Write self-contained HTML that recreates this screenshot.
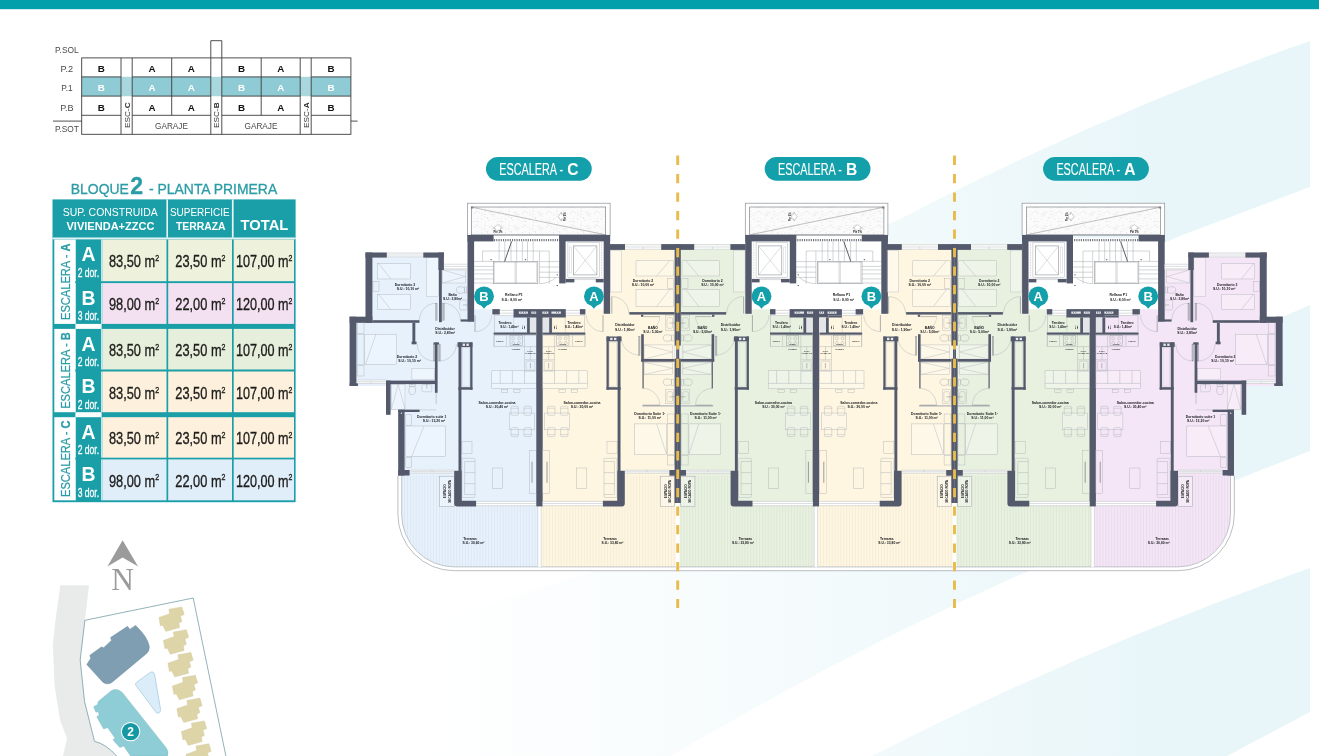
<!DOCTYPE html>
<html lang="es"><head><meta charset="utf-8"><title>Bloque 2 - Planta Primera</title>
<style>html,body{margin:0;padding:0;background:#fff;}body{width:1319px;height:756px;overflow:hidden;}svg{display:block;font-family:"Liberation Sans",sans-serif;}svg{will-change:transform;}</style></head><body>
<svg width="1319" height="756" viewBox="0 0 1319 756">
<rect width="1319" height="756" fill="#fff"/>
<g id="background"><defs><linearGradient id="bg1" x1="420" y1="0" x2="1150" y2="0" gradientUnits="userSpaceOnUse"><stop offset="0" stop-color="#e9f6f9" stop-opacity="0"/><stop offset="0.5" stop-color="#e9f6f9" stop-opacity="0.45"/><stop offset="1" stop-color="#e9f6f9" stop-opacity="1"/></linearGradient></defs>
<path d="M1310 41 Q1106 112 900 219 L330 475 L330 600 L393 575 Q800 400 1180 236 L1310 187 Z" fill="url(#bg1)"/>
<path d="M1310 305 L1282 317 Q800 520 330 650 L330 756 L671 756 Q850 650 1026 572 L1233 481 L1310 451 Z" fill="url(#bg1)"/>
<path d="M1310 568 Q1080 650 872 756 L1227 756 L1310 712 Z" fill="url(#bg1)"/></g>
<rect x="0" y="0" width="1319" height="9.2" fill="#009fab" />
<g id="section"><rect x="81.7" y="76.9" width="269.2" height="19.2" fill="#8fcbd4" />
<rect x="121" y="76.9" width="11.2" height="19.2" fill="#a9d7de" />
<rect x="210.8" y="76.9" width="11" height="19.2" fill="#a9d7de" />
<rect x="300.2" y="76.9" width="11" height="19.2" fill="#a9d7de" />
<path d="M210.8 57.9 V40.7 H221.8 V57.9" fill="#fff" stroke="#3c3c3c" stroke-width="0.9"/>
<rect x="81.7" y="57.9" width="269.2" height="76.4" fill="none" stroke="#3c3c3c" stroke-width="0.9"/>
<path d="M121 57.9 V134.3" stroke="#3c3c3c" stroke-width="0.9"/>
<path d="M132.2 57.9 V134.3" stroke="#3c3c3c" stroke-width="0.9"/>
<path d="M171.7 57.9 V115.3" stroke="#3c3c3c" stroke-width="0.9"/>
<path d="M210.8 57.9 V134.3" stroke="#3c3c3c" stroke-width="0.9"/>
<path d="M221.8 57.9 V134.3" stroke="#3c3c3c" stroke-width="0.9"/>
<path d="M261.2 57.9 V115.3" stroke="#3c3c3c" stroke-width="0.9"/>
<path d="M300.2 57.9 V134.3" stroke="#3c3c3c" stroke-width="0.9"/>
<path d="M311.2 57.9 V134.3" stroke="#3c3c3c" stroke-width="0.9"/>
<path d="M81.7 76.9 H121" stroke="#3c3c3c" stroke-width="0.9"/>
<path d="M132.2 76.9 H210.8" stroke="#3c3c3c" stroke-width="0.9"/>
<path d="M221.8 76.9 H300.2" stroke="#3c3c3c" stroke-width="0.9"/>
<path d="M311.2 76.9 H350.9" stroke="#3c3c3c" stroke-width="0.9"/>
<path d="M81.7 96.1 H121" stroke="#3c3c3c" stroke-width="0.9"/>
<path d="M132.2 96.1 H210.8" stroke="#3c3c3c" stroke-width="0.9"/>
<path d="M221.8 96.1 H300.2" stroke="#3c3c3c" stroke-width="0.9"/>
<path d="M311.2 96.1 H350.9" stroke="#3c3c3c" stroke-width="0.9"/>
<path d="M81.7 115.3 H121" stroke="#3c3c3c" stroke-width="0.9"/>
<path d="M132.2 115.3 H210.8" stroke="#3c3c3c" stroke-width="0.9"/>
<path d="M221.8 115.3 H300.2" stroke="#3c3c3c" stroke-width="0.9"/>
<path d="M311.2 115.3 H350.9" stroke="#3c3c3c" stroke-width="0.9"/>
<path d="M53 121.1 H81.7 M350.9 121.1 H357.6" stroke="#3c3c3c" stroke-width="0.9"/>
<text x="66.9" y="53.2" font-size="8.8" fill="#4a4a4a" font-weight="normal" text-anchor="middle" textLength="23.6" lengthAdjust="spacingAndGlyphs" >P.SOL</text>
<text x="66.9" y="72.3" font-size="8.8" fill="#4a4a4a" font-weight="normal" text-anchor="middle" textLength="12.6" lengthAdjust="spacingAndGlyphs" >P.2</text>
<text x="66.9" y="91.4" font-size="8.8" fill="#4a4a4a" font-weight="normal" text-anchor="middle" textLength="11.4" lengthAdjust="spacingAndGlyphs" >P.1</text>
<text x="66.9" y="110.6" font-size="8.8" fill="#4a4a4a" font-weight="normal" text-anchor="middle" textLength="13.4" lengthAdjust="spacingAndGlyphs" >P.B</text>
<text x="66.9" y="132.2" font-size="8.8" fill="#4a4a4a" font-weight="normal" text-anchor="middle" textLength="24" lengthAdjust="spacingAndGlyphs" >P.SOT</text>
<text x="101.35" y="72.3" font-size="9.8" fill="#111" font-weight="bold" text-anchor="middle" >B</text>
<text x="151.95" y="72.3" font-size="9.8" fill="#111" font-weight="bold" text-anchor="middle" >A</text>
<text x="191.25" y="72.3" font-size="9.8" fill="#111" font-weight="bold" text-anchor="middle" >A</text>
<text x="241.5" y="72.3" font-size="9.8" fill="#111" font-weight="bold" text-anchor="middle" >B</text>
<text x="280.7" y="72.3" font-size="9.8" fill="#111" font-weight="bold" text-anchor="middle" >A</text>
<text x="331.05" y="72.3" font-size="9.8" fill="#111" font-weight="bold" text-anchor="middle" >B</text>
<text x="101.35" y="91.3" font-size="9.8" fill="#fff" font-weight="bold" text-anchor="middle" >B</text>
<text x="151.95" y="91.3" font-size="9.8" fill="#fff" font-weight="bold" text-anchor="middle" >A</text>
<text x="191.25" y="91.3" font-size="9.8" fill="#fff" font-weight="bold" text-anchor="middle" >A</text>
<text x="241.5" y="91.3" font-size="9.8" fill="#fff" font-weight="bold" text-anchor="middle" >B</text>
<text x="280.7" y="91.3" font-size="9.8" fill="#fff" font-weight="bold" text-anchor="middle" >A</text>
<text x="331.05" y="91.3" font-size="9.8" fill="#fff" font-weight="bold" text-anchor="middle" >B</text>
<text x="101.35" y="110.5" font-size="9.8" fill="#111" font-weight="bold" text-anchor="middle" >B</text>
<text x="151.95" y="110.5" font-size="9.8" fill="#111" font-weight="bold" text-anchor="middle" >A</text>
<text x="191.25" y="110.5" font-size="9.8" fill="#111" font-weight="bold" text-anchor="middle" >A</text>
<text x="241.5" y="110.5" font-size="9.8" fill="#111" font-weight="bold" text-anchor="middle" >B</text>
<text x="280.7" y="110.5" font-size="9.8" fill="#111" font-weight="bold" text-anchor="middle" >A</text>
<text x="331.05" y="110.5" font-size="9.8" fill="#111" font-weight="bold" text-anchor="middle" >B</text>
<text x="171.5" y="129.4" font-size="8.8" fill="#4a4a4a" font-weight="normal" text-anchor="middle" textLength="33" lengthAdjust="spacingAndGlyphs" >GARAJE</text>
<text x="261" y="129.4" font-size="8.8" fill="#4a4a4a" font-weight="normal" text-anchor="middle" textLength="33" lengthAdjust="spacingAndGlyphs" >GARAJE</text>
<text transform="translate(129.5 128) rotate(-90)" font-size="7.8" fill="#333" textLength="25.6" lengthAdjust="spacingAndGlyphs">ESC-<tspan font-weight="bold">C</tspan></text>
<text transform="translate(219.2 128) rotate(-90)" font-size="7.8" fill="#333" textLength="25.6" lengthAdjust="spacingAndGlyphs">ESC-<tspan font-weight="bold">B</tspan></text>
<text transform="translate(308.6 128) rotate(-90)" font-size="7.8" fill="#333" textLength="25.6" lengthAdjust="spacingAndGlyphs">ESC-<tspan font-weight="bold">A</tspan></text></g>
<g id="table"><text x="70.8" y="193.8" font-size="13.9" fill="#2b9ca6" stroke="#2b9ca6" stroke-width="0.3" textLength="206.4" lengthAdjust="spacingAndGlyphs">BLOQUE<tspan font-size="23" font-weight="bold" dx="1.5">2</tspan><tspan dx="2"> - PLANTA PRIMERA</tspan></text>
<rect x="52.5" y="199.4" width="243.1" height="302.8" fill="#1a9fa9" />
<rect x="166.4" y="199.4" width="1.6" height="38.2" fill="#e8f6f7" />
<rect x="231.9" y="199.4" width="1.7" height="38.2" fill="#e8f6f7" />
<rect x="52.5" y="237.6" width="243.1" height="1.8" fill="#d9f0f2" />
<rect x="52.5" y="237.6" width="243.1" height="0.8" fill="#ffffff" opacity="0.5"/>
<text x="110.2" y="216.2" font-size="10.2" fill="#fff" font-weight="normal" text-anchor="middle" textLength="95" lengthAdjust="spacingAndGlyphs" >SUP. CONSTRUIDA</text>
<text x="110.5" y="230.3" font-size="10.3" fill="#fff" font-weight="bold" text-anchor="middle" textLength="88" lengthAdjust="spacingAndGlyphs" >VIVIENDA+ZZCC</text>
<text x="199.8" y="215.6" font-size="10.2" fill="#fff" font-weight="normal" text-anchor="middle" textLength="59.6" lengthAdjust="spacingAndGlyphs" >SUPERFICIE</text>
<text x="200.8" y="229.6" font-size="10.3" fill="#fff" font-weight="bold" text-anchor="middle" textLength="49.6" lengthAdjust="spacingAndGlyphs" >TERRAZA</text>
<text x="264.4" y="229.6" font-size="13.8" fill="#fff" font-weight="bold" text-anchor="middle" textLength="47.8" lengthAdjust="spacingAndGlyphs" >TOTAL</text>
<rect x="54.3" y="239.5" width="20.9" height="84.4" fill="#ffffff" />
<text transform="translate(69.6 281.7) rotate(-90)" font-size="13.6" fill="#2b9ca6" stroke="#2b9ca6" stroke-width="0.25" text-anchor="middle" textLength="76.5" lengthAdjust="spacingAndGlyphs">ESCALERA - <tspan font-weight="bold">A</tspan></text>
<rect x="54.3" y="328.9" width="20.9" height="83.3" fill="#ffffff" />
<text transform="translate(69.6 370.55) rotate(-90)" font-size="13.6" fill="#2b9ca6" stroke="#2b9ca6" stroke-width="0.25" text-anchor="middle" textLength="76.5" lengthAdjust="spacingAndGlyphs">ESCALERA - <tspan font-weight="bold">B</tspan></text>
<rect x="54.3" y="417.2" width="20.9" height="83.1" fill="#ffffff" />
<text transform="translate(69.6 458.75) rotate(-90)" font-size="13.6" fill="#2b9ca6" stroke="#2b9ca6" stroke-width="0.25" text-anchor="middle" textLength="76.5" lengthAdjust="spacingAndGlyphs">ESCALERA - <tspan font-weight="bold">C</tspan></text>
<rect x="75.4" y="323.9" width="26.2" height="5" fill="#fbfeff" />
<rect x="75.4" y="412.2" width="26.2" height="5" fill="#fbfeff" />
<rect x="102.6" y="239.5" width="63.9" height="41.7" fill="#eef2dc" />
<rect x="168.2" y="239.5" width="63.8" height="41.7" fill="#eef2dc" />
<rect x="233.7" y="239.5" width="60.3" height="41.7" fill="#eef2dc" />
<rect x="74.6" y="239.5" width="1.1" height="41.7" fill="#ffffff" />
<rect x="101.2" y="239.5" width="1.4" height="41.7" fill="#eaf7f8" />
<text x="88.6" y="261.1" font-size="19.4" fill="#fff" font-weight="bold" text-anchor="middle" >A</text>
<text x="88.4" y="276.7" font-size="12.4" fill="#fff" font-weight="normal" text-anchor="middle" textLength="21.4" lengthAdjust="spacingAndGlyphs" stroke="#fff" stroke-width="0.3">2 dor.</text>
<text x="134" y="266.7" font-size="16.4" fill="#1d1d1b" stroke="#1d1d1b" stroke-width="0.35" text-anchor="middle" textLength="50.2" lengthAdjust="spacingAndGlyphs">83,50 m<tspan font-size="9" dy="-6.2">2</tspan></text>
<text x="200.4" y="266.7" font-size="16.4" fill="#1d1d1b" stroke="#1d1d1b" stroke-width="0.35" text-anchor="middle" textLength="50.2" lengthAdjust="spacingAndGlyphs">23,50 m<tspan font-size="9" dy="-6.2">2</tspan></text>
<text x="264.2" y="266.7" font-size="16.4" fill="#1d1d1b" stroke="#1d1d1b" stroke-width="0.35" text-anchor="middle" textLength="56.5" lengthAdjust="spacingAndGlyphs">107,00 m<tspan font-size="9" dy="-6.2">2</tspan></text>
<rect x="102.6" y="283.1" width="63.9" height="40.8" fill="#f3e1f1" />
<rect x="168.2" y="283.1" width="63.8" height="40.8" fill="#f3e1f1" />
<rect x="233.7" y="283.1" width="60.3" height="40.8" fill="#f3e1f1" />
<rect x="74.6" y="283.1" width="1.1" height="40.8" fill="#ffffff" />
<rect x="101.2" y="283.1" width="1.4" height="40.8" fill="#eaf7f8" />
<text x="88.6" y="304.7" font-size="19.4" fill="#fff" font-weight="bold" text-anchor="middle" >B</text>
<text x="88.4" y="320.3" font-size="12.4" fill="#fff" font-weight="normal" text-anchor="middle" textLength="21.4" lengthAdjust="spacingAndGlyphs" stroke="#fff" stroke-width="0.3">3 dor.</text>
<text x="134" y="310.3" font-size="16.4" fill="#1d1d1b" stroke="#1d1d1b" stroke-width="0.35" text-anchor="middle" textLength="50.2" lengthAdjust="spacingAndGlyphs">98,00 m<tspan font-size="9" dy="-6.2">2</tspan></text>
<text x="200.4" y="310.3" font-size="16.4" fill="#1d1d1b" stroke="#1d1d1b" stroke-width="0.35" text-anchor="middle" textLength="50.2" lengthAdjust="spacingAndGlyphs">22,00 m<tspan font-size="9" dy="-6.2">2</tspan></text>
<text x="264.2" y="310.3" font-size="16.4" fill="#1d1d1b" stroke="#1d1d1b" stroke-width="0.35" text-anchor="middle" textLength="56.5" lengthAdjust="spacingAndGlyphs">120,00 m<tspan font-size="9" dy="-6.2">2</tspan></text>
<rect x="102.6" y="328.9" width="63.9" height="40.6" fill="#e6efdc" />
<rect x="168.2" y="328.9" width="63.8" height="40.6" fill="#e6efdc" />
<rect x="233.7" y="328.9" width="60.3" height="40.6" fill="#e6efdc" />
<rect x="74.6" y="328.9" width="1.1" height="40.6" fill="#ffffff" />
<rect x="101.2" y="328.9" width="1.4" height="40.6" fill="#eaf7f8" />
<text x="88.6" y="350.5" font-size="19.4" fill="#fff" font-weight="bold" text-anchor="middle" >A</text>
<text x="88.4" y="366.1" font-size="12.4" fill="#fff" font-weight="normal" text-anchor="middle" textLength="21.4" lengthAdjust="spacingAndGlyphs" stroke="#fff" stroke-width="0.3">2 dor.</text>
<text x="134" y="356.1" font-size="16.4" fill="#1d1d1b" stroke="#1d1d1b" stroke-width="0.35" text-anchor="middle" textLength="50.2" lengthAdjust="spacingAndGlyphs">83,50 m<tspan font-size="9" dy="-6.2">2</tspan></text>
<text x="200.4" y="356.1" font-size="16.4" fill="#1d1d1b" stroke="#1d1d1b" stroke-width="0.35" text-anchor="middle" textLength="50.2" lengthAdjust="spacingAndGlyphs">23,50 m<tspan font-size="9" dy="-6.2">2</tspan></text>
<text x="264.2" y="356.1" font-size="16.4" fill="#1d1d1b" stroke="#1d1d1b" stroke-width="0.35" text-anchor="middle" textLength="56.5" lengthAdjust="spacingAndGlyphs">107,00 m<tspan font-size="9" dy="-6.2">2</tspan></text>
<rect x="102.6" y="371.5" width="63.9" height="40.7" fill="#fdf1dd" />
<rect x="168.2" y="371.5" width="63.8" height="40.7" fill="#fdf1dd" />
<rect x="233.7" y="371.5" width="60.3" height="40.7" fill="#fdf1dd" />
<rect x="74.6" y="371.5" width="1.1" height="40.7" fill="#ffffff" />
<rect x="101.2" y="371.5" width="1.4" height="40.7" fill="#eaf7f8" />
<text x="88.6" y="393.1" font-size="19.4" fill="#fff" font-weight="bold" text-anchor="middle" >B</text>
<text x="88.4" y="408.7" font-size="12.4" fill="#fff" font-weight="normal" text-anchor="middle" textLength="21.4" lengthAdjust="spacingAndGlyphs" stroke="#fff" stroke-width="0.3">2 dor.</text>
<text x="134" y="398.7" font-size="16.4" fill="#1d1d1b" stroke="#1d1d1b" stroke-width="0.35" text-anchor="middle" textLength="50.2" lengthAdjust="spacingAndGlyphs">83,50 m<tspan font-size="9" dy="-6.2">2</tspan></text>
<text x="200.4" y="398.7" font-size="16.4" fill="#1d1d1b" stroke="#1d1d1b" stroke-width="0.35" text-anchor="middle" textLength="50.2" lengthAdjust="spacingAndGlyphs">23,50 m<tspan font-size="9" dy="-6.2">2</tspan></text>
<text x="264.2" y="398.7" font-size="16.4" fill="#1d1d1b" stroke="#1d1d1b" stroke-width="0.35" text-anchor="middle" textLength="56.5" lengthAdjust="spacingAndGlyphs">107,00 m<tspan font-size="9" dy="-6.2">2</tspan></text>
<rect x="102.6" y="417.2" width="63.9" height="40.5" fill="#fdf1dd" />
<rect x="168.2" y="417.2" width="63.8" height="40.5" fill="#fdf1dd" />
<rect x="233.7" y="417.2" width="60.3" height="40.5" fill="#fdf1dd" />
<rect x="74.6" y="417.2" width="1.1" height="40.5" fill="#ffffff" />
<rect x="101.2" y="417.2" width="1.4" height="40.5" fill="#eaf7f8" />
<text x="88.6" y="438.8" font-size="19.4" fill="#fff" font-weight="bold" text-anchor="middle" >A</text>
<text x="88.4" y="454.4" font-size="12.4" fill="#fff" font-weight="normal" text-anchor="middle" textLength="21.4" lengthAdjust="spacingAndGlyphs" stroke="#fff" stroke-width="0.3">2 dor.</text>
<text x="134" y="444.4" font-size="16.4" fill="#1d1d1b" stroke="#1d1d1b" stroke-width="0.35" text-anchor="middle" textLength="50.2" lengthAdjust="spacingAndGlyphs">83,50 m<tspan font-size="9" dy="-6.2">2</tspan></text>
<text x="200.4" y="444.4" font-size="16.4" fill="#1d1d1b" stroke="#1d1d1b" stroke-width="0.35" text-anchor="middle" textLength="50.2" lengthAdjust="spacingAndGlyphs">23,50 m<tspan font-size="9" dy="-6.2">2</tspan></text>
<text x="264.2" y="444.4" font-size="16.4" fill="#1d1d1b" stroke="#1d1d1b" stroke-width="0.35" text-anchor="middle" textLength="56.5" lengthAdjust="spacingAndGlyphs">107,00 m<tspan font-size="9" dy="-6.2">2</tspan></text>
<rect x="102.6" y="459.4" width="63.9" height="40.9" fill="#e0eefa" />
<rect x="168.2" y="459.4" width="63.8" height="40.9" fill="#e0eefa" />
<rect x="233.7" y="459.4" width="60.3" height="40.9" fill="#e0eefa" />
<rect x="74.6" y="459.4" width="1.1" height="40.9" fill="#ffffff" />
<rect x="101.2" y="459.4" width="1.4" height="40.9" fill="#eaf7f8" />
<text x="88.6" y="481" font-size="19.4" fill="#fff" font-weight="bold" text-anchor="middle" >B</text>
<text x="88.4" y="496.6" font-size="12.4" fill="#fff" font-weight="normal" text-anchor="middle" textLength="21.4" lengthAdjust="spacingAndGlyphs" stroke="#fff" stroke-width="0.3">3 dor.</text>
<text x="134" y="486.6" font-size="16.4" fill="#1d1d1b" stroke="#1d1d1b" stroke-width="0.35" text-anchor="middle" textLength="50.2" lengthAdjust="spacingAndGlyphs">98,00 m<tspan font-size="9" dy="-6.2">2</tspan></text>
<text x="200.4" y="486.6" font-size="16.4" fill="#1d1d1b" stroke="#1d1d1b" stroke-width="0.35" text-anchor="middle" textLength="50.2" lengthAdjust="spacingAndGlyphs">22,00 m<tspan font-size="9" dy="-6.2">2</tspan></text>
<text x="264.2" y="486.6" font-size="16.4" fill="#1d1d1b" stroke="#1d1d1b" stroke-width="0.35" text-anchor="middle" textLength="56.5" lengthAdjust="spacingAndGlyphs">120,00 m<tspan font-size="9" dy="-6.2">2</tspan></text></g>
<g id="sitemap"><path d="M60.3 585.3 L89 585.3 L84.9 620.5 L80.2 660 L84.5 701.4 L94.5 741.3 Q106 744 116.7 756 L63 756 L67 738.5 L60 720 L54.6 686 L52.8 645 L55.5 620 Z" fill="#e9eaea"/>
<path d="M116.7 756 Q106 744 94.5 741.3 L84.5 701.4 L80.2 660 L84.9 620.3 L193.2 598 L225.9 756" fill="#fff" stroke="#4a7f88" stroke-width="0.6"/>
<path d="M86.8 664.6 L90.7 658.4 L89.9 655.3 L101.4 646.9 L103.7 647.7 L111.5 640.4 L110.6 637.6 L127.6 626.3 L129.8 629.4 L135.6 625.4 L137.8 627.7 Q147.5 637 149.3 646.5 Q149.5 651.5 146 654 L112.1 682.2 Q107.5 685.5 102.9 682.2 Z" fill="#7f9eb2" stroke="#6b8a9e" stroke-width="0.5"/>
<path d="M136 685.5 Q134.6 683.8 136.6 682.3 L150.2 672.4 Q153.6 670.8 154.6 674.5 L160.6 709.6 Q160.2 714.2 156.4 712.8 Z" fill="#dcedfa" stroke="#9cc7da" stroke-width="0.7"/>
<path d="M93.7 706.8 L97.6 704.5 L98.3 701.4 L111.4 690.7 Q116.7 687.6 122.2 692.4 L165.9 747.4 Q169.2 752 167.4 756 L130.6 756 L123.7 745.9 L119.8 747.4 L112.9 739.8 L115.2 738.2 L107.5 727.5 L103.7 729 L96.8 716.8 L99.1 715.2 L98.3 711.4 L96 712.2 Z" fill="#8fcdd6" stroke="#7bbcc6" stroke-width="0.5"/>
<path d="M158.9 617.6 L169.6 613.8 L168.9 609.2 L181.9 606.9 L184.2 614.5 L180.4 616.1 L181.9 621.4 L178.9 623 L179.6 627.6 L165.8 631.4 L162.7 625.3 L160.4 626 Z" fill="#ddd4a8" stroke="#d2c89a" stroke-width="0.4"/>
<path d="M163.4 640.4 L174.1 636.6 L173.4 632 L186.4 629.7 L188.7 637.3 L184.9 638.9 L186.4 644.2 L183.4 645.8 L184.1 650.4 L170.3 654.2 L167.2 648.1 L164.9 648.8 Z" fill="#ddd4a8" stroke="#d2c89a" stroke-width="0.4"/>
<path d="M167.9 663.2 L178.6 659.4 L177.9 654.8 L190.9 652.5 L193.2 660.1 L189.4 661.7 L190.9 667 L187.9 668.6 L188.6 673.2 L174.8 677 L171.7 670.9 L169.4 671.6 Z" fill="#ddd4a8" stroke="#d2c89a" stroke-width="0.4"/>
<path d="M172.4 686 L183.1 682.2 L182.4 677.6 L195.4 675.3 L197.7 682.9 L193.9 684.5 L195.4 689.8 L192.4 691.4 L193.1 696 L179.3 699.8 L176.2 693.7 L173.9 694.4 Z" fill="#ddd4a8" stroke="#d2c89a" stroke-width="0.4"/>
<path d="M176.9 708.8 L187.6 705 L186.9 700.4 L199.9 698.1 L202.2 705.7 L198.4 707.3 L199.9 712.6 L196.9 714.2 L197.6 718.8 L183.8 722.6 L180.7 716.5 L178.4 717.2 Z" fill="#ddd4a8" stroke="#d2c89a" stroke-width="0.4"/>
<path d="M181.4 731.6 L192.1 727.8 L191.4 723.2 L204.4 720.9 L206.7 728.5 L202.9 730.1 L204.4 735.4 L201.4 737 L202.1 741.6 L188.3 745.4 L185.2 739.3 L182.9 740 Z" fill="#ddd4a8" stroke="#d2c89a" stroke-width="0.4"/>
<path d="M185.9 754.4 L196.6 750.6 L195.9 746 L208.9 743.7 L211.2 751.3 L207.4 752.9 L208.9 758.2 L205.9 759.8 L206.6 764.4 L192.8 768.2 L189.7 762.1 L187.4 762.8 Z" fill="#ddd4a8" stroke="#d2c89a" stroke-width="0.4"/>
<circle cx="130.6" cy="731.6" r="9.7" fill="#fff"/>
<circle cx="130.6" cy="731.6" r="8.7" fill="#1598a3"/>
<text x="130.6" y="735.9" font-size="12" fill="#fff" font-weight="bold" text-anchor="middle" >2</text>
<path d="M122.6 540.3 L138.1 566.6 L122.6 557.4 L107.4 566.6 Z" fill="#9b9b9b"/>
<text x="122.6" y="589.6" font-size="31.5" fill="#9b9b9b" text-anchor="middle" font-family='"Liberation Serif", serif'>N</text></g>
<g id="plan"><defs><pattern id="hatch_blue" width="2.9" height="8" patternUnits="userSpaceOnUse"><rect width="2.9" height="8" fill="#e6f1fc"/><rect x="1.1" width="0.7" height="8" fill="#d9e5f2"/></pattern><pattern id="hatch_cream" width="2.9" height="8" patternUnits="userSpaceOnUse"><rect width="2.9" height="8" fill="#fef6e1"/><rect x="1.1" width="0.7" height="8" fill="#f1e9d3"/></pattern><pattern id="hatch_green" width="2.9" height="8" patternUnits="userSpaceOnUse"><rect width="2.9" height="8" fill="#e8f1e0"/><rect x="1.1" width="0.7" height="8" fill="#dbe5d2"/></pattern><pattern id="hatch_pink" width="2.9" height="8" patternUnits="userSpaceOnUse"><rect width="2.9" height="8" fill="#f4e6f6"/><rect x="1.1" width="0.7" height="8" fill="#e7d8ea"/></pattern><pattern id="speck" width="24" height="14" patternUnits="userSpaceOnUse"><rect width="24" height="14" fill="#fbfbfb"/><rect x="5.52" y="1.38" width="0.6" height="0.6" fill="#c9ccd0"/><rect x="9.27" y="2.08" width="0.6" height="0.6" fill="#c9ccd0"/><rect x="1.56" y="5.38" width="0.6" height="0.6" fill="#c9ccd0"/><rect x="21.48" y="10.73" width="0.6" height="0.6" fill="#c9ccd0"/><rect x="17.9" y="2.97" width="0.6" height="0.6" fill="#c9ccd0"/><rect x="12.56" y="3.71" width="0.6" height="0.6" fill="#c9ccd0"/><rect x="4.04" y="1.42" width="0.6" height="0.6" fill="#c9ccd0"/><rect x="5.02" y="12.43" width="0.6" height="0.6" fill="#c9ccd0"/><rect x="19.4" y="10.81" width="0.6" height="0.6" fill="#c9ccd0"/><rect x="18.73" y="2.59" width="0.6" height="0.6" fill="#c9ccd0"/><rect x="7.25" y="8.4" width="0.6" height="0.6" fill="#c9ccd0"/><rect x="17.13" y="11.45" width="0.6" height="0.6" fill="#c9ccd0"/><rect x="20.59" y="1.16" width="0.6" height="0.6" fill="#c9ccd0"/><rect x="14.18" y="9" width="0.6" height="0.6" fill="#c9ccd0"/><rect x="11.84" y="2.38" width="0.6" height="0.6" fill="#c9ccd0"/><rect x="11.08" y="1.2" width="0.6" height="0.6" fill="#c9ccd0"/><rect x="21.87" y="11.6" width="0.6" height="0.6" fill="#c9ccd0"/><rect x="12.81" y="4.02" width="0.6" height="0.6" fill="#c9ccd0"/><rect x="21.27" y="7.67" width="0.6" height="0.6" fill="#c9ccd0"/><rect x="20.65" y="11.36" width="0.6" height="0.6" fill="#c9ccd0"/><rect x="11.9" y="5.55" width="0.6" height="0.6" fill="#c9ccd0"/><rect x="14.01" y="5.78" width="0.6" height="0.6" fill="#c9ccd0"/><rect x="3.77" y="4.09" width="0.6" height="0.6" fill="#c9ccd0"/><rect x="19.01" y="0.58" width="0.6" height="0.6" fill="#c9ccd0"/><rect x="1.08" y="8.39" width="0.6" height="0.6" fill="#c9ccd0"/><rect x="6.56" y="7.16" width="0.6" height="0.6" fill="#c9ccd0"/><rect x="11.03" y="4.59" width="0.6" height="0.6" fill="#c9ccd0"/><rect x="23.34" y="2.62" width="0.6" height="0.6" fill="#c9ccd0"/><rect x="9.66" y="2.72" width="0.6" height="0.6" fill="#c9ccd0"/><rect x="14.8" y="3.7" width="0.6" height="0.6" fill="#c9ccd0"/><rect x="8.33" y="10.01" width="0.6" height="0.6" fill="#c9ccd0"/><rect x="7.5" y="7.48" width="0.6" height="0.6" fill="#c9ccd0"/><rect x="21.16" y="1.35" width="0.6" height="0.6" fill="#c9ccd0"/><rect x="1.44" y="3.07" width="0.6" height="0.6" fill="#c9ccd0"/><rect x="17.9" y="8.25" width="0.6" height="0.6" fill="#c9ccd0"/><rect x="5.56" y="4.44" width="0.6" height="0.6" fill="#c9ccd0"/><rect x="4.15" y="6.15" width="0.6" height="0.6" fill="#c9ccd0"/><rect x="1" y="9.34" width="0.6" height="0.6" fill="#c9ccd0"/></pattern><pattern id="duct" width="2" height="2" patternUnits="userSpaceOnUse"><rect width="2" height="2" fill="#f4f5f6"/><path d="M0 1 H2 M1 0 V2" stroke="#b9bdc2" stroke-width="0.3"/></pattern></defs>
<g ><path d="M365.5 252.5 H443.9 V264.2 H467.5 V321.3 H474.1 V309.1 H492.3 V315.2 H539.5 V566.7 H454.2 A52.5 52.5 0 0 1 401.7 514.2 V475.6 H398.2 V410 H386 V385.9 H349.6 V316.7 H365.5 Z" fill="#e6f1fc"/><path d="M401.7 475.6 H454.2 V506.4 H539.5 V566.7 H454.2 A52.5 52.5 0 0 1 401.7 514.2 Z" fill="url(#hatch_blue)"/></g>
<g ><path d="M610 244.1 H677.7 V566.7 H539.5 V315.2 H585.4 V309.1 H603.9 V313.7 H610 Z" fill="#fef6e1"/><path d="M539.5 506.4 H625 V475.6 H677.7 V566.7 H539.5 Z" fill="url(#hatch_cream)"/></g>
<g transform="matrix(-1 0 0 1 1355.4 0)" ><path d="M610 244.1 H677.7 V566.7 H539.5 V315.2 H585.4 V309.1 H603.9 V313.7 H610 Z" fill="#e8f1e0"/><path d="M539.5 506.4 H625 V475.6 H677.7 V566.7 H539.5 Z" fill="url(#hatch_green)"/></g>
<g transform="matrix(1 0 0 1 276.8 0)" ><path d="M610 244.1 H677.7 V566.7 H539.5 V315.2 H585.4 V309.1 H603.9 V313.7 H610 Z" fill="#fef6e1"/><path d="M539.5 506.4 H625 V475.6 H677.7 V566.7 H539.5 Z" fill="url(#hatch_cream)"/></g>
<g transform="matrix(-1 0 0 1 1632.2 0)" ><path d="M610 244.1 H677.7 V566.7 H539.5 V315.2 H585.4 V309.1 H603.9 V313.7 H610 Z" fill="#e8f1e0"/><path d="M539.5 506.4 H625 V475.6 H677.7 V566.7 H539.5 Z" fill="url(#hatch_green)"/></g>
<g transform="matrix(-1 0 0 1 1632.2 0)" ><path d="M365.5 252.5 H443.9 V264.2 H467.5 V321.3 H474.1 V309.1 H492.3 V315.2 H539.5 V566.7 H454.2 A52.5 52.5 0 0 1 401.7 514.2 V475.6 H398.2 V410 H386 V385.9 H349.6 V316.7 H365.5 Z" fill="#f4e6f6"/><path d="M401.7 475.6 H454.2 V506.4 H539.5 V566.7 H454.2 A52.5 52.5 0 0 1 401.7 514.2 Z" fill="url(#hatch_pink)"/></g>
<path d="M399.7 475.6 V514.4 A56.3 56.3 0 0 0 454.2 570.7 H1178 A56.3 56.3 0 0 0 1232.5 514.4 V475.6" fill="none" stroke="#fff" stroke-width="3.2" transform="translate(0 -1.7)"/>
<path d="M397.9 475.6 V514.4 A56.3 56.3 0 0 0 454.2 570.7 H1178 A56.3 56.3 0 0 0 1234.3 514.4 V475.6" fill="none" stroke="#9ea2a8" stroke-width="0.7"/>
<path d="M401.7 475.6 V514.4 A52.5 52.5 0 0 0 454.2 566.9 H1178 A52.5 52.5 0 0 0 1230.5 514.4 V475.6" fill="none" stroke="#aab0b6" stroke-width="0.7"/>
<rect x="537.8" y="506.4" width="3.4" height="60.5" fill="#fff" />
<path d="M537.8 506.4 V566.9 M541.2 506.4 V566.9" fill="none" stroke="#b8bcc2" stroke-width="0.45" />
<rect x="814.2" y="506.4" width="3.4" height="60.5" fill="#fff" />
<path d="M814.2 506.4 V566.9 M817.6 506.4 V566.9" fill="none" stroke="#b8bcc2" stroke-width="0.45" />
<rect x="1091" y="506.4" width="3.4" height="60.5" fill="#fff" />
<path d="M1091 506.4 V566.9 M1094.4 506.4 V566.9" fill="none" stroke="#b8bcc2" stroke-width="0.45" />
<rect x="675.8" y="503" width="3.8" height="63.9" fill="#fff" />
<rect x="952.6" y="503" width="3.8" height="63.9" fill="#fff" />
<g ><rect x="386.8" y="253" width="36.5" height="4" fill="#fff" />
<path d="M386.8 253.2 H423.3 M386.8 255 H423.3 M386.8 256.8 H423.3" fill="none" stroke="#aeb2b8" stroke-width="0.45" />
<rect x="443.9" y="264.2" width="23.6" height="5.2" fill="#fff" />
<path d="M443.9 264.2 H467.5 M443.9 266.4 H467.5 M443.9 268.8 H467.5" fill="none" stroke="#aeb2b8" stroke-width="0.45" />
<rect x="426.4" y="257.8" width="11.9" height="38.8" fill="#ffffff" stroke="#b4b8bc" stroke-width="0.42" fill-opacity="0.3"/>
<rect x="377.7" y="263.6" width="32.7" height="15.4" fill="#ffffff" stroke="#abb0b6" stroke-width="0.42" fill-opacity="0.25"/><path d="M378.68 263.6 L390.78 279" fill="none" stroke="#abb0b6" stroke-width="0.42" />
<rect x="377.7" y="294.3" width="32.7" height="15.2" fill="#ffffff" stroke="#abb0b6" stroke-width="0.42" fill-opacity="0.25"/><path d="M378.68 294.3 L390.78 309.5" fill="none" stroke="#abb0b6" stroke-width="0.42" />
<rect x="373" y="281.4" width="6" height="9.9" fill="none" stroke="#abb0b6" stroke-width="0.42" />
<rect x="442.6" y="270" width="22.8" height="13" fill="#ffffff" stroke="#b4b8bc" stroke-width="0.42" fill-opacity="0.25"/>
<path d="M442.6 270 L465.4 276.5 L442.6 283" fill="none" stroke="#b4b8bc" stroke-width="0.45" />
<ellipse cx="460.6" cy="290" rx="4.2" ry="3.3" fill="none" stroke="#abb0b6" stroke-width="0.5"/>
<rect x="464.4" y="287" width="2.4" height="6" fill="none" stroke="#abb0b6" stroke-width="0.42" />
<rect x="459.6" y="300" width="7.6" height="10" fill="none" stroke="#abb0b6" stroke-width="0.42" rx="1.4"/>
<path d="M463 305 H467.5" fill="none" stroke="#8d9197" stroke-width="0.5" />
<path d="M436.3 320.4 L436.3 303.2" fill="none" stroke="#8a8f96" stroke-width="0.7" /><path d="M436.3 303.2 A17 17 0 0 0 419.4 320.4" fill="none" stroke="#abb0b6" stroke-width="0.45" />
<path d="M443.4 320.4 L443.4 303.2" fill="none" stroke="#8a8f96" stroke-width="0.7" /><path d="M443.4 303.2 A17 17 0 0 1 460.4 320.4" fill="none" stroke="#abb0b6" stroke-width="0.45" />
<path d="M434.2 344 L434.2 361" fill="none" stroke="#8a8f96" stroke-width="0.7" /><path d="M434.2 361 A17 17 0 0 1 417.2 344" fill="none" stroke="#abb0b6" stroke-width="0.45" />
<path d="M439.4 344 L439.4 361" fill="none" stroke="#8a8f96" stroke-width="0.7" /><path d="M439.4 361 A17 17 0 0 0 456.4 344" fill="none" stroke="#abb0b6" stroke-width="0.45" />
<rect x="433.4" y="344" width="1.6" height="17" fill="none" stroke="#8a8f96" stroke-width="0.4" />
<rect x="438.6" y="344" width="1.6" height="17" fill="none" stroke="#8a8f96" stroke-width="0.4" />
<rect x="435.5" y="303.2" width="1.6" height="17.2" fill="none" stroke="#8a8f96" stroke-width="0.4" />
<rect x="442.6" y="303.2" width="1.6" height="17.2" fill="none" stroke="#8a8f96" stroke-width="0.4" />
<rect x="364.8" y="334.2" width="31.9" height="30.4" fill="#ffffff" stroke="#abb0b6" stroke-width="0.42" fill-opacity="0.25"/><path d="M375.97 334.2 L365.44 364.6" fill="none" stroke="#abb0b6" stroke-width="0.42" />
<rect x="357.2" y="322.8" width="6.8" height="10.6" fill="none" stroke="#abb0b6" stroke-width="0.42" />
<rect x="357.2" y="365.4" width="6.8" height="10.6" fill="none" stroke="#abb0b6" stroke-width="0.42" />
<rect x="357.2" y="334.2" width="6.8" height="30.4" fill="none" stroke="#b4b8bc" stroke-width="0.42" />
<rect x="411.9" y="368.4" width="22.8" height="11.4" fill="#ffffff" stroke="#b4b8bc" stroke-width="0.42" fill-opacity="0.3"/>
<rect x="356.4" y="380" width="29.6" height="3.4" fill="#fff" />
<path d="M356.4 380 H386 M356.4 381.7 H386 M356.4 383.4 H386 M371 381.7 v1.7" fill="none" stroke="#aeb2b8" stroke-width="0.45" />
<rect x="391.4" y="384.2" width="13.6" height="25" fill="#ffffff" stroke="#b4b8bc" stroke-width="0.42" fill-opacity="0.25"/>
<path d="M391.4 409.2 L398.2 384.2 L405 409.2" fill="none" stroke="#b4b8bc" stroke-width="0.45" />
<ellipse cx="412.2" cy="390.4" rx="3.3" ry="4.2" fill="none" stroke="#abb0b6" stroke-width="0.5"/>
<rect x="409.2" y="384.4" width="6" height="2.4" fill="none" stroke="#abb0b6" stroke-width="0.42" />
<rect x="421.8" y="384.6" width="10" height="7.2" fill="none" stroke="#abb0b6" stroke-width="0.42" rx="1.4"/>
<path d="M426.8 384 V388.5" fill="none" stroke="#8d9197" stroke-width="0.5" />
<path d="M436.2 392.8 V404" fill="none" stroke="#9a9fa6" stroke-width="0.5" />
<path d="M404.6 409.9 H436" fill="none" stroke="#aeb2b8" stroke-width="0.45" />
<rect x="405.8" y="426" width="39.6" height="30.4" fill="#ffffff" stroke="#abb0b6" stroke-width="0.42" fill-opacity="0.25"/><path d="M424.02 426 L411.74 456.4" fill="none" stroke="#abb0b6" stroke-width="0.42" />
<rect x="405.8" y="414.8" width="5.6" height="10.4" fill="none" stroke="#abb0b6" stroke-width="0.42" />
<rect x="405.8" y="457.2" width="5.6" height="10" fill="none" stroke="#abb0b6" stroke-width="0.42" />
<rect x="409.6" y="470.2" width="44.6" height="2.8" fill="#fff" />
<path d="M409.6 470.2 H454.2 M409.6 471.6 H454.2 M409.6 473 H454.2 M432 470.2 v1.4" fill="none" stroke="#aeb2b8" stroke-width="0.45" />
<rect x="439.6" y="476.2" width="14.6" height="30.2" fill="#ffffff" stroke="#9a9fa6" stroke-width="0.45" fill-opacity="0.3"/>
<rect x="365.5" y="252.5" width="6.9" height="70.3" fill="#545a6c" />
<rect x="365.5" y="252.5" width="21.3" height="5.1" fill="#545a6c" />
<rect x="423.3" y="252.5" width="20.6" height="5.1" fill="#545a6c" />
<rect x="438.4" y="252.5" width="5.5" height="17.5" fill="#545a6c" />
<rect x="439" y="270" width="2.8" height="52.2" fill="#545a6c" />
<rect x="349.6" y="316.7" width="22.8" height="6.1" fill="#545a6c" />
<rect x="372.4" y="320.2" width="47.1" height="2.6" fill="#545a6c" />
<rect x="349.6" y="316.7" width="6.8" height="69.2" fill="#545a6c" />
<rect x="349.6" y="383.4" width="8.4" height="2.5" fill="#545a6c" />
<rect x="412.4" y="322.8" width="2.9" height="21.4" fill="#545a6c" />
<rect x="411.6" y="341.6" width="5" height="2.6" fill="#545a6c" />
<rect x="434.9" y="342.6" width="2.7" height="50.2" fill="#545a6c" />
<rect x="433.6" y="342.4" width="5.4" height="2" fill="#545a6c" />
<rect x="386" y="380.6" width="50.3" height="3.5" fill="#545a6c" />
<rect x="386" y="380.6" width="4.6" height="34.2" fill="#545a6c" />
<rect x="398.2" y="409.7" width="6.4" height="65.8" fill="#545a6c" />
<rect x="398.2" y="409.7" width="21.4" height="2.3" fill="#545a6c" />
<circle cx="401.5" cy="413.2" r="0.7" fill="#e8eaee"/>
<rect x="398.2" y="470" width="11.4" height="5.5" fill="#545a6c" /><rect x="494.2" y="315.3" width="32.9" height="17.4" fill="none" stroke="#a9adb3" stroke-width="0.45" />
<path d="M513.6 317.5 V332.7" fill="none" stroke="#b4b8bc" stroke-width="0.4" />
<rect x="529.8" y="317.5" width="6.5" height="15.2" fill="url(#duct)"/>
<rect x="527.1" y="317.5" width="2.7" height="15.5" fill="#545a6c" />
<rect x="493.6" y="332.6" width="42.7" height="2.1" fill="#545a6c" />
<rect x="494" y="335.7" width="12.2" height="10.9" fill="none" stroke="#abb0b6" stroke-width="0.42" />
<path d="M506.2 335.7 H524.5 M506.2 346.6 H524.5 M494 346.6 V335.7" fill="none" stroke="#abb0b6" stroke-width="0.45" />
<rect x="510" y="335.7" width="12.2" height="9.9" fill="none" stroke="#8d9197" stroke-width="0.42" />
<circle cx="513.2" cy="338.4" r="1.5" fill="none" stroke="#9a9fa6" stroke-width="0.4"/>
<circle cx="519" cy="338.4" r="1.5" fill="none" stroke="#9a9fa6" stroke-width="0.4"/>
<circle cx="513.2" cy="343" r="1.5" fill="none" stroke="#9a9fa6" stroke-width="0.4"/>
<circle cx="519" cy="343" r="1.5" fill="none" stroke="#9a9fa6" stroke-width="0.4"/>
<rect x="524.5" y="335.7" width="11.8" height="35.8" fill="none" stroke="#abb0b6" stroke-width="0.42" />
<path d="M524.5 346.6 H536.3 M524.5 359.8 H536.3 M530.3 346.6 V359.8" fill="none" stroke="#abb0b6" stroke-width="0.45" />
<rect x="526" y="361.2" width="8.8" height="9" fill="none" stroke="#abb0b6" stroke-width="0.42" rx="1.2"/>
<path d="M530.4 363 V368.4" fill="none" stroke="#8d9197" stroke-width="0.6" />
<rect x="491.8" y="370.8" width="44.5" height="17.4" fill="#ffffff" stroke="#abb0b6" stroke-width="0.42" fill-opacity="0.25"/>
<path d="M491.8 383.4 H536.3 M500.2 370.8 V383.4 M512.4 370.8 V383.4 M524.5 370.8 V383.4" fill="none" stroke="#abb0b6" stroke-width="0.45" />
<rect x="501.6" y="389.6" width="6.2" height="2.7" fill="none" stroke="#abb0b6" stroke-width="0.42" />
<rect x="513.8" y="389.6" width="6.2" height="2.7" fill="none" stroke="#abb0b6" stroke-width="0.42" />
<rect x="462.6" y="347.9" width="6.6" height="38.2" fill="none" stroke="#c0c4c8" stroke-width="0.35" />
<rect x="509.3" y="413" width="25.1" height="16.8" fill="#ffffff" stroke="#abb0b6" stroke-width="0.42" fill-opacity="0.2"/>
<rect x="511" y="406.3" width="7.4" height="9" fill="none" stroke="#abb0b6" stroke-width="0.42" rx="1.3"/>
<path d="M511 408.3 H518.4" fill="none" stroke="#abb0b6" stroke-width="0.4" />
<rect x="511" y="427.6" width="7.4" height="9" fill="none" stroke="#abb0b6" stroke-width="0.42" rx="1.3"/>
<path d="M511 434.6 H518.4" fill="none" stroke="#abb0b6" stroke-width="0.4" />
<rect x="524" y="406.3" width="7.4" height="9" fill="none" stroke="#abb0b6" stroke-width="0.42" rx="1.3"/>
<path d="M524 408.3 H531.4" fill="none" stroke="#abb0b6" stroke-width="0.4" />
<rect x="524" y="427.6" width="7.4" height="9" fill="none" stroke="#abb0b6" stroke-width="0.42" rx="1.3"/>
<path d="M524 434.6 H531.4" fill="none" stroke="#abb0b6" stroke-width="0.4" />
<rect x="461.9" y="441.2" width="10.1" height="12.1" fill="none" stroke="#abb0b6" stroke-width="0.42" />
<rect x="462" y="458.3" width="13" height="39.2" fill="none" stroke="#abb0b6" stroke-width="0.42" rx="1"/>
<path d="M464.6 461.5 V494.5 M464.6 461.5 H475 M464.6 494.5 H475 M464.6 472.6 H475 M464.6 483.6 H475" fill="none" stroke="#abb0b6" stroke-width="0.45" />
<rect x="492.2" y="468" width="10.2" height="20.3" fill="none" stroke="#abb0b6" stroke-width="0.42" />
<rect x="529.5" y="450.7" width="6.8" height="42.5" fill="none" stroke="#abb0b6" stroke-width="0.42" />
<path d="M532 461.7 V482.8" fill="none" stroke="#8d9197" stroke-width="0.9" />
<rect x="476.1" y="501.4" width="60.2" height="4.3" fill="#fff" />
<path d="M476.1 501.4 H536.3 M476.1 503.5 H536.3 M476.1 505.7 H536.3" fill="none" stroke="#aeb2b8" stroke-width="0.45" />
<rect x="457.5" y="342.3" width="14.9" height="4.8" fill="#545a6c" />
<rect x="462.6" y="343.6" width="2.4" height="2.3" fill="#e8eaee" />
<rect x="466.4" y="343.6" width="2.4" height="2.3" fill="#e8eaee" />
<rect x="470.2" y="342.3" width="2.3" height="47.4" fill="#545a6c" />
<rect x="458.3" y="387.2" width="14.2" height="2.5" fill="#545a6c" />
<rect x="458.5" y="342.3" width="2.9" height="128.7" fill="#545a6c" />
<path d="M454.2 470.8 H461.8 V500.7 H476.1 V506.4 H457.2 Q454.2 506.4 454.2 503.4 Z" fill="#545a6c"/><rect x="536.3" y="315.2" width="6.4" height="191.2" fill="#545a6c" /></g>
<g ><rect x="625" y="244.6" width="36.2" height="4.8" fill="#fff" />
<path d="M625 244.8 H661.2 M625 247 H661.2 M625 249.2 H661.2 M643.1 247 v2" fill="none" stroke="#aeb2b8" stroke-width="0.45" />
<rect x="610.3" y="250.2" width="11.4" height="41.8" fill="#ffffff" stroke="#b4b8bc" stroke-width="0.42" fill-opacity="0.3"/>
<rect x="636" y="260.8" width="37.4" height="15.2" fill="#ffffff" stroke="#abb0b6" stroke-width="0.42" fill-opacity="0.25"/><path d="M669.66 260.8 L656.57 276" fill="none" stroke="#abb0b6" stroke-width="0.42" />
<rect x="636" y="289.7" width="37.4" height="16.8" fill="#ffffff" stroke="#abb0b6" stroke-width="0.42" fill-opacity="0.25"/><path d="M669.66 289.7 L656.57 306.5" fill="none" stroke="#abb0b6" stroke-width="0.42" />
<rect x="667.4" y="278.3" width="6.2" height="9.9" fill="none" stroke="#abb0b6" stroke-width="0.42" />
<path d="M611.8 313.6 L611.8 296.6" fill="none" stroke="#8a8f96" stroke-width="0.7" /><path d="M611.8 296.6 A17 17 0 0 1 628.8 313.6" fill="none" stroke="#abb0b6" stroke-width="0.45" />
<rect x="665.6" y="315.7" width="8.2" height="14.6" fill="none" stroke="#b4b8bc" stroke-width="0.42" />
<rect x="667" y="317.6" width="5.6" height="10.8" fill="none" stroke="#abb0b6" stroke-width="0.42" rx="1.6"/>
<path d="M669.6 323 H677" fill="none" stroke="#8d9197" stroke-width="0.5" />
<ellipse cx="667.4" cy="338" rx="4.2" ry="3.3" fill="none" stroke="#abb0b6" stroke-width="0.5"/>
<rect x="671.6" y="335" width="2.4" height="6" fill="none" stroke="#abb0b6" stroke-width="0.42" />
<path d="M643.9 316.6 H660" fill="none" stroke="#8a8f96" stroke-width="0.6" />
<path d="M660 316.8 Q659 325 652 331" fill="none" stroke="#abb0b6" stroke-width="0.4" />
<rect x="644.1" y="344.9" width="28.4" height="14.2" fill="#ffffff" stroke="#b4b8bc" stroke-width="0.42" fill-opacity="0.25"/>
<path d="M644.1 344.9 L672.5 352 L644.1 359.1" fill="none" stroke="#b4b8bc" stroke-width="0.45" />
<rect x="644.1" y="362.2" width="28.4" height="12.3" fill="#ffffff" stroke="#b4b8bc" stroke-width="0.42" fill-opacity="0.25"/>
<path d="M644.1 362.2 L672.5 368.3 L644.1 374.5" fill="none" stroke="#b4b8bc" stroke-width="0.45" />
<ellipse cx="667.4" cy="382.2" rx="4.2" ry="3.3" fill="none" stroke="#abb0b6" stroke-width="0.5"/>
<rect x="671.6" y="379.2" width="2.4" height="6" fill="none" stroke="#abb0b6" stroke-width="0.42" />
<rect x="665.6" y="389.8" width="8.2" height="13.8" fill="none" stroke="#b4b8bc" stroke-width="0.42" />
<rect x="667" y="391.6" width="5.6" height="10.2" fill="none" stroke="#abb0b6" stroke-width="0.42" rx="1.6"/>
<path d="M669.6 396.8 H677" fill="none" stroke="#8d9197" stroke-width="0.5" />
<path d="M642.2 405.8 H674.6" fill="none" stroke="#aeb2b8" stroke-width="1.2" />
<path d="M643 405.2 L659.8 405.2" fill="none" stroke="#8a8f96" stroke-width="0.7" /><path d="M659.8 405.2 A16.8 16.8 0 0 0 643 388.4" fill="none" stroke="#abb0b6" stroke-width="0.45" />
<path d="M639.3 336.2 L639.3 355.2" fill="none" stroke="#8a8f96" stroke-width="0.7" /><path d="M639.3 355.2 A19 19 0 0 1 620.9 336.4" fill="none" stroke="#abb0b6" stroke-width="0.45" />
<rect x="638.5" y="336.2" width="1.5" height="19" fill="none" stroke="#8a8f96" stroke-width="0.4" />
<rect x="634.6" y="423.9" width="31.9" height="30.4" fill="#ffffff" stroke="#abb0b6" stroke-width="0.42" fill-opacity="0.25"/><path d="M656.61 423.9 L666.5 454.3" fill="none" stroke="#abb0b6" stroke-width="0.42" />
<rect x="667.3" y="414" width="6.9" height="9.2" fill="none" stroke="#abb0b6" stroke-width="0.42" />
<rect x="667.3" y="455.2" width="6.9" height="9.8" fill="none" stroke="#abb0b6" stroke-width="0.42" />
<rect x="667.3" y="423.9" width="6.9" height="30.4" fill="none" stroke="#b4b8bc" stroke-width="0.42" />
<rect x="625" y="470.2" width="44.3" height="3" fill="#fff" />
<path d="M625 470.2 H669.3 M625 471.7 H669.3 M625 473.2 H669.3 M647 470.2 v1.5" fill="none" stroke="#aeb2b8" stroke-width="0.45" />
<rect x="660.5" y="476.2" width="14.1" height="30.2" fill="#ffffff" stroke="#9a9fa6" stroke-width="0.45" fill-opacity="0.3"/>
<rect x="609.8" y="244.1" width="15.2" height="5.8" fill="#545a6c" />
<rect x="661.2" y="244.1" width="16.5" height="5.8" fill="#545a6c" />
<rect x="629.3" y="312.1" width="45.3" height="2.5" fill="#545a6c" />
<rect x="641" y="314.6" width="2.4" height="2.2" fill="#545a6c" />
<rect x="641.2" y="334.2" width="2.6" height="27.5" fill="#545a6c" />
<rect x="641.2" y="359" width="33.4" height="2.7" fill="#545a6c" />
<rect x="642.4" y="361.7" width="1.4" height="26.7" fill="#6a707c" />
<rect x="674.6" y="244.1" width="3.2" height="258.9" fill="#545a6c" />
<rect x="669.4" y="470" width="8.4" height="5.7" fill="#545a6c" />
<rect x="674.2" y="345.6" width="2" height="13" fill="#f2f3f5" /></g>
<g transform="matrix(-1 0 0 1 1079 0)" ><rect x="494.2" y="315.3" width="32.9" height="17.4" fill="none" stroke="#a9adb3" stroke-width="0.45" />
<path d="M513.6 317.5 V332.7" fill="none" stroke="#b4b8bc" stroke-width="0.4" />
<rect x="529.8" y="317.5" width="6.5" height="15.2" fill="url(#duct)"/>
<rect x="527.1" y="317.5" width="2.7" height="15.5" fill="#545a6c" />
<rect x="493.6" y="332.6" width="42.7" height="2.1" fill="#545a6c" />
<rect x="494" y="335.7" width="12.2" height="10.9" fill="none" stroke="#abb0b6" stroke-width="0.42" />
<path d="M506.2 335.7 H524.5 M506.2 346.6 H524.5 M494 346.6 V335.7" fill="none" stroke="#abb0b6" stroke-width="0.45" />
<rect x="510" y="335.7" width="12.2" height="9.9" fill="none" stroke="#8d9197" stroke-width="0.42" />
<circle cx="513.2" cy="338.4" r="1.5" fill="none" stroke="#9a9fa6" stroke-width="0.4"/>
<circle cx="519" cy="338.4" r="1.5" fill="none" stroke="#9a9fa6" stroke-width="0.4"/>
<circle cx="513.2" cy="343" r="1.5" fill="none" stroke="#9a9fa6" stroke-width="0.4"/>
<circle cx="519" cy="343" r="1.5" fill="none" stroke="#9a9fa6" stroke-width="0.4"/>
<rect x="524.5" y="335.7" width="11.8" height="35.8" fill="none" stroke="#abb0b6" stroke-width="0.42" />
<path d="M524.5 346.6 H536.3 M524.5 359.8 H536.3 M530.3 346.6 V359.8" fill="none" stroke="#abb0b6" stroke-width="0.45" />
<rect x="526" y="361.2" width="8.8" height="9" fill="none" stroke="#abb0b6" stroke-width="0.42" rx="1.2"/>
<path d="M530.4 363 V368.4" fill="none" stroke="#8d9197" stroke-width="0.6" />
<rect x="491.8" y="370.8" width="44.5" height="17.4" fill="#ffffff" stroke="#abb0b6" stroke-width="0.42" fill-opacity="0.25"/>
<path d="M491.8 383.4 H536.3 M500.2 370.8 V383.4 M512.4 370.8 V383.4 M524.5 370.8 V383.4" fill="none" stroke="#abb0b6" stroke-width="0.45" />
<rect x="501.6" y="389.6" width="6.2" height="2.7" fill="none" stroke="#abb0b6" stroke-width="0.42" />
<rect x="513.8" y="389.6" width="6.2" height="2.7" fill="none" stroke="#abb0b6" stroke-width="0.42" />
<rect x="462.6" y="342.1" width="6.6" height="44" fill="none" stroke="#c0c4c8" stroke-width="0.35" />
<rect x="509.3" y="413" width="25.1" height="16.8" fill="#ffffff" stroke="#abb0b6" stroke-width="0.42" fill-opacity="0.2"/>
<rect x="511" y="406.3" width="7.4" height="9" fill="none" stroke="#abb0b6" stroke-width="0.42" rx="1.3"/>
<path d="M511 408.3 H518.4" fill="none" stroke="#abb0b6" stroke-width="0.4" />
<rect x="511" y="427.6" width="7.4" height="9" fill="none" stroke="#abb0b6" stroke-width="0.42" rx="1.3"/>
<path d="M511 434.6 H518.4" fill="none" stroke="#abb0b6" stroke-width="0.4" />
<rect x="524" y="406.3" width="7.4" height="9" fill="none" stroke="#abb0b6" stroke-width="0.42" rx="1.3"/>
<path d="M524 408.3 H531.4" fill="none" stroke="#abb0b6" stroke-width="0.4" />
<rect x="524" y="427.6" width="7.4" height="9" fill="none" stroke="#abb0b6" stroke-width="0.42" rx="1.3"/>
<path d="M524 434.6 H531.4" fill="none" stroke="#abb0b6" stroke-width="0.4" />
<rect x="461.9" y="441.2" width="10.1" height="12.1" fill="none" stroke="#abb0b6" stroke-width="0.42" />
<rect x="462" y="458.3" width="13" height="39.2" fill="none" stroke="#abb0b6" stroke-width="0.42" rx="1"/>
<path d="M464.6 461.5 V494.5 M464.6 461.5 H475 M464.6 494.5 H475 M464.6 472.6 H475 M464.6 483.6 H475" fill="none" stroke="#abb0b6" stroke-width="0.45" />
<rect x="492.2" y="468" width="10.2" height="20.3" fill="none" stroke="#abb0b6" stroke-width="0.42" />
<rect x="529.5" y="450.7" width="6.8" height="42.5" fill="none" stroke="#abb0b6" stroke-width="0.42" />
<path d="M532 461.7 V482.8" fill="none" stroke="#8d9197" stroke-width="0.9" />
<rect x="476.1" y="501.4" width="60.2" height="4.3" fill="#fff" />
<path d="M476.1 501.4 H536.3 M476.1 503.5 H536.3 M476.1 505.7 H536.3" fill="none" stroke="#aeb2b8" stroke-width="0.45" />
<rect x="457.5" y="336.5" width="14.9" height="4.8" fill="#545a6c" />
<rect x="462.6" y="337.8" width="2.4" height="2.3" fill="#e8eaee" />
<rect x="466.4" y="337.8" width="2.4" height="2.3" fill="#e8eaee" />
<rect x="470.2" y="336.5" width="2.3" height="53.2" fill="#545a6c" />
<rect x="458.3" y="387.2" width="14.2" height="2.5" fill="#545a6c" />
<rect x="458.5" y="336.5" width="2.9" height="134.5" fill="#545a6c" />
<path d="M454.2 470.8 H461.8 V500.7 H476.1 V506.4 H457.2 Q454.2 506.4 454.2 503.4 Z" fill="#545a6c"/></g>
<g ><rect x="467.5" y="203.2" width="142.6" height="32" fill="#fff" stroke="#8d9197" stroke-width="0.7"/>
<rect x="471.5" y="207" width="134.2" height="27.8" fill="url(#speck)" stroke="#6d7178" stroke-width="0.6"/>
<path d="M471.5 207.2 L604.5 234.6" fill="none" stroke="#777" stroke-width="0.45" />
<path d="M471.3 206.8 h1.6 v1.6 h-1.6 z" fill="none" stroke="#555" stroke-width="0.4" />
<path d="M497.9 224.6 L502.6 228 L500.6 228 L500.6 230.3 L495.2 230.3 L495.2 228 L493.2 228 Z" fill="#fff" stroke="#888" stroke-width="0.4" />
<path d="M558.2 216.6 L561.4 212.2 L561.4 214.2 L563.7 214.2 L563.7 219 L561.4 219 L561.4 221 Z" fill="#fff" stroke="#888" stroke-width="0.4" />
<rect x="470" y="238" width="137" height="71.3" fill="#fff" />
<rect x="492.3" y="309" width="93.1" height="6.2" fill="#fff" />
<path d="M499.1 241.4 V260.9 M504.8 241.4 V260.9 M511 241.4 V260.9 M516.7 241.4 V260.9 M522.4 241.4 V260.9 M527.5 241.4 V260.9 M533.2 241.4 V260.9 M482.6 251 H549.2 M482.6 251 V261.6 M539.5 251 V283.6 M549.2 251 V283.6 M474.1 261.4 H493.4 M474.1 266.4 H493.4 M474.1 269.9 H493.4 M474.1 273.9 H493.4 M474.1 278.9 H493.4 M474.1 283 H493.4 M539.5 261.6 H559.2 M539.5 267 H559.2 M539.5 272.2 H559.2 M539.5 277.4 H559.2 M539.5 283.6 Q549 283.6 556 277.6" fill="none" stroke="#a4a8ad" stroke-width="0.5" />
<rect x="493.4" y="261.6" width="44.4" height="22.1" fill="#fff" stroke="#8d9197" stroke-width="0.6" />
<rect x="494.6" y="262.7" width="42" height="19.9" fill="none" stroke="#b4b8bc" stroke-width="0.4" />
<path d="M515.1 261.6 V283.7 M516.3 261.6 V283.7" fill="none" stroke="#9a9fa6" stroke-width="0.4" />
<path d="M511.6 241.4 L504.6 261.6" fill="none" stroke="#5a5f68" stroke-width="1.0" />
<path d="M494 240.2 H558.8" fill="none" stroke="#6d7178" stroke-width="2.2" stroke-dasharray="1.1 1.15"/>
<path d="M490.3 259.2 l1.6 0 l-0.8 1.3 z" fill="#333"/>
<path d="M524.7 259.2 l1.6 0 l-0.8 1.3 z" fill="#333"/>
<path d="M556.4 274.4 l1.6 0 l-0.8 1.3 z" fill="#333"/>
<path d="M556.4 284.9 l1.6 0 l-0.8 1.3 z" fill="#333"/>
<rect x="567.9" y="242.6" width="31.4" height="34.7" fill="#fff" stroke="#b0b4b9" stroke-width="0.5" />
<path d="M601.6 242 V278" fill="none" stroke="#b0b4b9" stroke-width="0.5" stroke-dasharray="1.5 1"/>
<rect x="569.6" y="247" width="2" height="26" fill="none" stroke="#c0c4c8" stroke-width="0.4" />
<rect x="573.6" y="245.9" width="23.3" height="29" fill="#fff" stroke="#8d9197" stroke-width="0.6" />
<path d="M573.6 245.9 L596.9 274.9 M596.9 245.9 L573.6 274.9" fill="none" stroke="#b4b8bc" stroke-width="0.45" />
<path d="M574.4 278.3 H595.8 M574.4 279.6 H595.8" fill="none" stroke="#9a9fa6" stroke-width="0.4" />
<rect x="467.5" y="235" width="6.6" height="86.5" fill="#545a6c" />
<rect x="467.5" y="235" width="26.1" height="6.4" fill="#545a6c" />
<rect x="559.2" y="235" width="50.9" height="6.4" fill="#545a6c" />
<rect x="559.2" y="235" width="6.4" height="48.4" fill="#545a6c" />
<rect x="603.7" y="235" width="6.4" height="78.8" fill="#545a6c" />
<rect x="565.6" y="278.9" width="8.8" height="3.5" fill="#545a6c" />
<rect x="595.8" y="278.9" width="7.9" height="3.5" fill="#545a6c" />
<rect x="460.6" y="319.4" width="13.5" height="2.2" fill="#545a6c" />
<rect x="513.5" y="309.1" width="52.3" height="8.4" fill="#545a6c" />
<rect x="492.3" y="309.1" width="7.5" height="5.4" fill="#545a6c" />
<rect x="579.9" y="309.1" width="5.5" height="5.4" fill="#545a6c" />
<path d="M499.8 310.4 H513.5 M499.8 313.2 H513.5 M565.6 310.4 H579.9 M565.6 313.2 H579.9" fill="none" stroke="#9a9fa6" stroke-width="0.4" />
<rect x="518.8" y="311.5" width="9.1" height="2.2" fill="#e4e6ea" />
<rect x="531.3" y="311.5" width="4.9" height="2.2" fill="#e4e6ea" />
<rect x="542.3" y="311.5" width="6.1" height="2.2" fill="#e4e6ea" />
<rect x="551.4" y="311.5" width="9.5" height="2.2" fill="#e4e6ea" />
<rect x="520.6" y="311.5" width="0.8" height="1.3" fill="#545a6c" />
<rect x="523" y="311.5" width="0.8" height="1.3" fill="#545a6c" />
<rect x="525.4" y="311.5" width="0.8" height="1.3" fill="#545a6c" />
<rect x="532.6" y="311.5" width="0.8" height="1.3" fill="#545a6c" />
<rect x="534.4" y="311.5" width="0.8" height="1.3" fill="#545a6c" />
<rect x="543.8" y="311.5" width="0.8" height="1.3" fill="#545a6c" />
<rect x="546" y="311.5" width="0.8" height="1.3" fill="#545a6c" />
<rect x="556" y="311.5" width="0.8" height="1.3" fill="#545a6c" />
<rect x="558.2" y="311.5" width="0.8" height="1.3" fill="#545a6c" />
<path d="M475 315.2 L475 331.6" fill="none" stroke="#8a8f96" stroke-width="0.7" /><path d="M475 331.6 A16.5 16.5 0 0 0 491.6 315.2" fill="none" stroke="#abb0b6" stroke-width="0.45" />
<path d="M603 315.2 L603 331.6" fill="none" stroke="#8a8f96" stroke-width="0.7" /><path d="M603 331.6 A16.5 16.5 0 0 1 586.4 315.2" fill="none" stroke="#abb0b6" stroke-width="0.45" /></g>
<g transform="matrix(-1 0 0 1 1355.4 0)" ><rect x="625" y="244.6" width="36.2" height="4.8" fill="#fff" />
<path d="M625 244.8 H661.2 M625 247 H661.2 M625 249.2 H661.2 M643.1 247 v2" fill="none" stroke="#aeb2b8" stroke-width="0.45" />
<rect x="610.3" y="250.2" width="11.4" height="41.8" fill="#ffffff" stroke="#b4b8bc" stroke-width="0.42" fill-opacity="0.3"/>
<rect x="636" y="260.8" width="37.4" height="15.2" fill="#ffffff" stroke="#abb0b6" stroke-width="0.42" fill-opacity="0.25"/><path d="M669.66 260.8 L656.57 276" fill="none" stroke="#abb0b6" stroke-width="0.42" />
<rect x="636" y="289.7" width="37.4" height="16.8" fill="#ffffff" stroke="#abb0b6" stroke-width="0.42" fill-opacity="0.25"/><path d="M669.66 289.7 L656.57 306.5" fill="none" stroke="#abb0b6" stroke-width="0.42" />
<rect x="667.4" y="278.3" width="6.2" height="9.9" fill="none" stroke="#abb0b6" stroke-width="0.42" />
<path d="M611.8 313.6 L611.8 296.6" fill="none" stroke="#8a8f96" stroke-width="0.7" /><path d="M611.8 296.6 A17 17 0 0 1 628.8 313.6" fill="none" stroke="#abb0b6" stroke-width="0.45" />
<rect x="665.6" y="315.7" width="8.2" height="14.6" fill="none" stroke="#b4b8bc" stroke-width="0.42" />
<rect x="667" y="317.6" width="5.6" height="10.8" fill="none" stroke="#abb0b6" stroke-width="0.42" rx="1.6"/>
<path d="M669.6 323 H677" fill="none" stroke="#8d9197" stroke-width="0.5" />
<ellipse cx="667.4" cy="338" rx="4.2" ry="3.3" fill="none" stroke="#abb0b6" stroke-width="0.5"/>
<rect x="671.6" y="335" width="2.4" height="6" fill="none" stroke="#abb0b6" stroke-width="0.42" />
<path d="M643.9 316.6 H660" fill="none" stroke="#8a8f96" stroke-width="0.6" />
<path d="M660 316.8 Q659 325 652 331" fill="none" stroke="#abb0b6" stroke-width="0.4" />
<rect x="644.1" y="344.9" width="28.4" height="14.2" fill="#ffffff" stroke="#b4b8bc" stroke-width="0.42" fill-opacity="0.25"/>
<path d="M644.1 344.9 L672.5 352 L644.1 359.1" fill="none" stroke="#b4b8bc" stroke-width="0.45" />
<rect x="644.1" y="362.2" width="28.4" height="12.3" fill="#ffffff" stroke="#b4b8bc" stroke-width="0.42" fill-opacity="0.25"/>
<path d="M644.1 362.2 L672.5 368.3 L644.1 374.5" fill="none" stroke="#b4b8bc" stroke-width="0.45" />
<ellipse cx="667.4" cy="382.2" rx="4.2" ry="3.3" fill="none" stroke="#abb0b6" stroke-width="0.5"/>
<rect x="671.6" y="379.2" width="2.4" height="6" fill="none" stroke="#abb0b6" stroke-width="0.42" />
<rect x="665.6" y="389.8" width="8.2" height="13.8" fill="none" stroke="#b4b8bc" stroke-width="0.42" />
<rect x="667" y="391.6" width="5.6" height="10.2" fill="none" stroke="#abb0b6" stroke-width="0.42" rx="1.6"/>
<path d="M669.6 396.8 H677" fill="none" stroke="#8d9197" stroke-width="0.5" />
<path d="M642.2 405.8 H674.6" fill="none" stroke="#aeb2b8" stroke-width="1.2" />
<path d="M643 405.2 L659.8 405.2" fill="none" stroke="#8a8f96" stroke-width="0.7" /><path d="M659.8 405.2 A16.8 16.8 0 0 0 643 388.4" fill="none" stroke="#abb0b6" stroke-width="0.45" />
<path d="M639.3 336.2 L639.3 355.2" fill="none" stroke="#8a8f96" stroke-width="0.7" /><path d="M639.3 355.2 A19 19 0 0 1 620.9 336.4" fill="none" stroke="#abb0b6" stroke-width="0.45" />
<rect x="638.5" y="336.2" width="1.5" height="19" fill="none" stroke="#8a8f96" stroke-width="0.4" />
<rect x="634.6" y="423.9" width="31.9" height="30.4" fill="#ffffff" stroke="#abb0b6" stroke-width="0.42" fill-opacity="0.25"/><path d="M656.61 423.9 L666.5 454.3" fill="none" stroke="#abb0b6" stroke-width="0.42" />
<rect x="667.3" y="414" width="6.9" height="9.2" fill="none" stroke="#abb0b6" stroke-width="0.42" />
<rect x="667.3" y="455.2" width="6.9" height="9.8" fill="none" stroke="#abb0b6" stroke-width="0.42" />
<rect x="667.3" y="423.9" width="6.9" height="30.4" fill="none" stroke="#b4b8bc" stroke-width="0.42" />
<rect x="625" y="470.2" width="44.3" height="3" fill="#fff" />
<path d="M625 470.2 H669.3 M625 471.7 H669.3 M625 473.2 H669.3 M647 470.2 v1.5" fill="none" stroke="#aeb2b8" stroke-width="0.45" />
<rect x="660.5" y="476.2" width="14.1" height="30.2" fill="#ffffff" stroke="#9a9fa6" stroke-width="0.45" fill-opacity="0.3"/>
<rect x="609.8" y="244.1" width="15.2" height="5.8" fill="#545a6c" />
<rect x="661.2" y="244.1" width="16.5" height="5.8" fill="#545a6c" />
<rect x="629.3" y="312.1" width="45.3" height="2.5" fill="#545a6c" />
<rect x="641" y="314.6" width="2.4" height="2.2" fill="#545a6c" />
<rect x="641.2" y="334.2" width="2.6" height="27.5" fill="#545a6c" />
<rect x="641.2" y="359" width="33.4" height="2.7" fill="#545a6c" />
<rect x="642.4" y="361.7" width="1.4" height="26.7" fill="#6a707c" />
<rect x="674.6" y="244.1" width="3.2" height="258.9" fill="#545a6c" />
<rect x="669.4" y="470" width="8.4" height="5.7" fill="#545a6c" />
<rect x="674.2" y="345.6" width="2" height="13" fill="#f2f3f5" /><rect x="536.3" y="315.2" width="6.4" height="191.2" fill="#545a6c" /></g>
<g transform="matrix(1 0 0 1 276.4 0)" ><rect x="494.2" y="315.3" width="32.9" height="17.4" fill="none" stroke="#a9adb3" stroke-width="0.45" />
<path d="M513.6 317.5 V332.7" fill="none" stroke="#b4b8bc" stroke-width="0.4" />
<rect x="529.8" y="317.5" width="6.5" height="15.2" fill="url(#duct)"/>
<rect x="527.1" y="317.5" width="2.7" height="15.5" fill="#545a6c" />
<rect x="493.6" y="332.6" width="42.7" height="2.1" fill="#545a6c" />
<rect x="494" y="335.7" width="12.2" height="10.9" fill="none" stroke="#abb0b6" stroke-width="0.42" />
<path d="M506.2 335.7 H524.5 M506.2 346.6 H524.5 M494 346.6 V335.7" fill="none" stroke="#abb0b6" stroke-width="0.45" />
<rect x="510" y="335.7" width="12.2" height="9.9" fill="none" stroke="#8d9197" stroke-width="0.42" />
<circle cx="513.2" cy="338.4" r="1.5" fill="none" stroke="#9a9fa6" stroke-width="0.4"/>
<circle cx="519" cy="338.4" r="1.5" fill="none" stroke="#9a9fa6" stroke-width="0.4"/>
<circle cx="513.2" cy="343" r="1.5" fill="none" stroke="#9a9fa6" stroke-width="0.4"/>
<circle cx="519" cy="343" r="1.5" fill="none" stroke="#9a9fa6" stroke-width="0.4"/>
<rect x="524.5" y="335.7" width="11.8" height="35.8" fill="none" stroke="#abb0b6" stroke-width="0.42" />
<path d="M524.5 346.6 H536.3 M524.5 359.8 H536.3 M530.3 346.6 V359.8" fill="none" stroke="#abb0b6" stroke-width="0.45" />
<rect x="526" y="361.2" width="8.8" height="9" fill="none" stroke="#abb0b6" stroke-width="0.42" rx="1.2"/>
<path d="M530.4 363 V368.4" fill="none" stroke="#8d9197" stroke-width="0.6" />
<rect x="491.8" y="370.8" width="44.5" height="17.4" fill="#ffffff" stroke="#abb0b6" stroke-width="0.42" fill-opacity="0.25"/>
<path d="M491.8 383.4 H536.3 M500.2 370.8 V383.4 M512.4 370.8 V383.4 M524.5 370.8 V383.4" fill="none" stroke="#abb0b6" stroke-width="0.45" />
<rect x="501.6" y="389.6" width="6.2" height="2.7" fill="none" stroke="#abb0b6" stroke-width="0.42" />
<rect x="513.8" y="389.6" width="6.2" height="2.7" fill="none" stroke="#abb0b6" stroke-width="0.42" />
<rect x="462.6" y="342.1" width="6.6" height="44" fill="none" stroke="#c0c4c8" stroke-width="0.35" />
<rect x="509.3" y="413" width="25.1" height="16.8" fill="#ffffff" stroke="#abb0b6" stroke-width="0.42" fill-opacity="0.2"/>
<rect x="511" y="406.3" width="7.4" height="9" fill="none" stroke="#abb0b6" stroke-width="0.42" rx="1.3"/>
<path d="M511 408.3 H518.4" fill="none" stroke="#abb0b6" stroke-width="0.4" />
<rect x="511" y="427.6" width="7.4" height="9" fill="none" stroke="#abb0b6" stroke-width="0.42" rx="1.3"/>
<path d="M511 434.6 H518.4" fill="none" stroke="#abb0b6" stroke-width="0.4" />
<rect x="524" y="406.3" width="7.4" height="9" fill="none" stroke="#abb0b6" stroke-width="0.42" rx="1.3"/>
<path d="M524 408.3 H531.4" fill="none" stroke="#abb0b6" stroke-width="0.4" />
<rect x="524" y="427.6" width="7.4" height="9" fill="none" stroke="#abb0b6" stroke-width="0.42" rx="1.3"/>
<path d="M524 434.6 H531.4" fill="none" stroke="#abb0b6" stroke-width="0.4" />
<rect x="461.9" y="441.2" width="10.1" height="12.1" fill="none" stroke="#abb0b6" stroke-width="0.42" />
<rect x="462" y="458.3" width="13" height="39.2" fill="none" stroke="#abb0b6" stroke-width="0.42" rx="1"/>
<path d="M464.6 461.5 V494.5 M464.6 461.5 H475 M464.6 494.5 H475 M464.6 472.6 H475 M464.6 483.6 H475" fill="none" stroke="#abb0b6" stroke-width="0.45" />
<rect x="492.2" y="468" width="10.2" height="20.3" fill="none" stroke="#abb0b6" stroke-width="0.42" />
<rect x="529.5" y="450.7" width="6.8" height="42.5" fill="none" stroke="#abb0b6" stroke-width="0.42" />
<path d="M532 461.7 V482.8" fill="none" stroke="#8d9197" stroke-width="0.9" />
<rect x="476.1" y="501.4" width="60.2" height="4.3" fill="#fff" />
<path d="M476.1 501.4 H536.3 M476.1 503.5 H536.3 M476.1 505.7 H536.3" fill="none" stroke="#aeb2b8" stroke-width="0.45" />
<rect x="457.5" y="336.5" width="14.9" height="4.8" fill="#545a6c" />
<rect x="462.6" y="337.8" width="2.4" height="2.3" fill="#e8eaee" />
<rect x="466.4" y="337.8" width="2.4" height="2.3" fill="#e8eaee" />
<rect x="470.2" y="336.5" width="2.3" height="53.2" fill="#545a6c" />
<rect x="458.3" y="387.2" width="14.2" height="2.5" fill="#545a6c" />
<rect x="458.5" y="336.5" width="2.9" height="134.5" fill="#545a6c" />
<path d="M454.2 470.8 H461.8 V500.7 H476.1 V506.4 H457.2 Q454.2 506.4 454.2 503.4 Z" fill="#545a6c"/></g>
<g transform="matrix(-1 0 0 1 1355.4 0)" ><rect x="467.5" y="203.2" width="142.6" height="32" fill="#fff" stroke="#8d9197" stroke-width="0.7"/>
<rect x="471.5" y="207" width="134.2" height="27.8" fill="url(#speck)" stroke="#6d7178" stroke-width="0.6"/>
<path d="M471.5 207.2 L604.5 234.6" fill="none" stroke="#777" stroke-width="0.45" />
<path d="M471.3 206.8 h1.6 v1.6 h-1.6 z" fill="none" stroke="#555" stroke-width="0.4" />
<path d="M497.9 224.6 L502.6 228 L500.6 228 L500.6 230.3 L495.2 230.3 L495.2 228 L493.2 228 Z" fill="#fff" stroke="#888" stroke-width="0.4" />
<path d="M558.2 216.6 L561.4 212.2 L561.4 214.2 L563.7 214.2 L563.7 219 L561.4 219 L561.4 221 Z" fill="#fff" stroke="#888" stroke-width="0.4" />
<rect x="470" y="238" width="137" height="71.3" fill="#fff" />
<rect x="492.3" y="309" width="93.1" height="6.2" fill="#fff" />
<path d="M499.1 241.4 V260.9 M504.8 241.4 V260.9 M511 241.4 V260.9 M516.7 241.4 V260.9 M522.4 241.4 V260.9 M527.5 241.4 V260.9 M533.2 241.4 V260.9 M482.6 251 H549.2 M482.6 251 V261.6 M539.5 251 V283.6 M549.2 251 V283.6 M474.1 261.4 H493.4 M474.1 266.4 H493.4 M474.1 269.9 H493.4 M474.1 273.9 H493.4 M474.1 278.9 H493.4 M474.1 283 H493.4 M539.5 261.6 H559.2 M539.5 267 H559.2 M539.5 272.2 H559.2 M539.5 277.4 H559.2 M539.5 283.6 Q549 283.6 556 277.6" fill="none" stroke="#a4a8ad" stroke-width="0.5" />
<rect x="493.4" y="261.6" width="44.4" height="22.1" fill="#fff" stroke="#8d9197" stroke-width="0.6" />
<rect x="494.6" y="262.7" width="42" height="19.9" fill="none" stroke="#b4b8bc" stroke-width="0.4" />
<path d="M515.1 261.6 V283.7 M516.3 261.6 V283.7" fill="none" stroke="#9a9fa6" stroke-width="0.4" />
<path d="M511.6 241.4 L504.6 261.6" fill="none" stroke="#5a5f68" stroke-width="1.0" />
<path d="M494 240.2 H558.8" fill="none" stroke="#6d7178" stroke-width="2.2" stroke-dasharray="1.1 1.15"/>
<path d="M490.3 259.2 l1.6 0 l-0.8 1.3 z" fill="#333"/>
<path d="M524.7 259.2 l1.6 0 l-0.8 1.3 z" fill="#333"/>
<path d="M556.4 274.4 l1.6 0 l-0.8 1.3 z" fill="#333"/>
<path d="M556.4 284.9 l1.6 0 l-0.8 1.3 z" fill="#333"/>
<rect x="567.9" y="242.6" width="31.4" height="34.7" fill="#fff" stroke="#b0b4b9" stroke-width="0.5" />
<path d="M601.6 242 V278" fill="none" stroke="#b0b4b9" stroke-width="0.5" stroke-dasharray="1.5 1"/>
<rect x="569.6" y="247" width="2" height="26" fill="none" stroke="#c0c4c8" stroke-width="0.4" />
<rect x="573.6" y="245.9" width="23.3" height="29" fill="#fff" stroke="#8d9197" stroke-width="0.6" />
<path d="M573.6 245.9 L596.9 274.9 M596.9 245.9 L573.6 274.9" fill="none" stroke="#b4b8bc" stroke-width="0.45" />
<path d="M574.4 278.3 H595.8 M574.4 279.6 H595.8" fill="none" stroke="#9a9fa6" stroke-width="0.4" />
<rect x="467.5" y="235" width="6.6" height="78.8" fill="#545a6c" />
<rect x="467.5" y="235" width="26.1" height="6.4" fill="#545a6c" />
<rect x="559.2" y="235" width="50.9" height="6.4" fill="#545a6c" />
<rect x="559.2" y="235" width="6.4" height="48.4" fill="#545a6c" />
<rect x="603.7" y="235" width="6.4" height="78.8" fill="#545a6c" />
<rect x="565.6" y="278.9" width="8.8" height="3.5" fill="#545a6c" />
<rect x="595.8" y="278.9" width="7.9" height="3.5" fill="#545a6c" />
<rect x="513.5" y="309.1" width="52.3" height="8.4" fill="#545a6c" />
<rect x="492.3" y="309.1" width="7.5" height="5.4" fill="#545a6c" />
<rect x="579.9" y="309.1" width="5.5" height="5.4" fill="#545a6c" />
<path d="M499.8 310.4 H513.5 M499.8 313.2 H513.5 M565.6 310.4 H579.9 M565.6 313.2 H579.9" fill="none" stroke="#9a9fa6" stroke-width="0.4" />
<rect x="518.8" y="311.5" width="9.1" height="2.2" fill="#e4e6ea" />
<rect x="531.3" y="311.5" width="4.9" height="2.2" fill="#e4e6ea" />
<rect x="542.3" y="311.5" width="6.1" height="2.2" fill="#e4e6ea" />
<rect x="551.4" y="311.5" width="9.5" height="2.2" fill="#e4e6ea" />
<rect x="520.6" y="311.5" width="0.8" height="1.3" fill="#545a6c" />
<rect x="523" y="311.5" width="0.8" height="1.3" fill="#545a6c" />
<rect x="525.4" y="311.5" width="0.8" height="1.3" fill="#545a6c" />
<rect x="532.6" y="311.5" width="0.8" height="1.3" fill="#545a6c" />
<rect x="534.4" y="311.5" width="0.8" height="1.3" fill="#545a6c" />
<rect x="543.8" y="311.5" width="0.8" height="1.3" fill="#545a6c" />
<rect x="546" y="311.5" width="0.8" height="1.3" fill="#545a6c" />
<rect x="556" y="311.5" width="0.8" height="1.3" fill="#545a6c" />
<rect x="558.2" y="311.5" width="0.8" height="1.3" fill="#545a6c" />
<path d="M475 315.2 L475 331.6" fill="none" stroke="#8a8f96" stroke-width="0.7" /><path d="M475 331.6 A16.5 16.5 0 0 0 491.6 315.2" fill="none" stroke="#abb0b6" stroke-width="0.45" />
<path d="M603 315.2 L603 331.6" fill="none" stroke="#8a8f96" stroke-width="0.7" /><path d="M603 331.6 A16.5 16.5 0 0 1 586.4 315.2" fill="none" stroke="#abb0b6" stroke-width="0.45" /></g>
<g transform="matrix(1 0 0 1 276.8 0)" ><rect x="625" y="244.6" width="36.2" height="4.8" fill="#fff" />
<path d="M625 244.8 H661.2 M625 247 H661.2 M625 249.2 H661.2 M643.1 247 v2" fill="none" stroke="#aeb2b8" stroke-width="0.45" />
<rect x="610.3" y="250.2" width="11.4" height="41.8" fill="#ffffff" stroke="#b4b8bc" stroke-width="0.42" fill-opacity="0.3"/>
<rect x="636" y="260.8" width="37.4" height="15.2" fill="#ffffff" stroke="#abb0b6" stroke-width="0.42" fill-opacity="0.25"/><path d="M669.66 260.8 L656.57 276" fill="none" stroke="#abb0b6" stroke-width="0.42" />
<rect x="636" y="289.7" width="37.4" height="16.8" fill="#ffffff" stroke="#abb0b6" stroke-width="0.42" fill-opacity="0.25"/><path d="M669.66 289.7 L656.57 306.5" fill="none" stroke="#abb0b6" stroke-width="0.42" />
<rect x="667.4" y="278.3" width="6.2" height="9.9" fill="none" stroke="#abb0b6" stroke-width="0.42" />
<path d="M611.8 313.6 L611.8 296.6" fill="none" stroke="#8a8f96" stroke-width="0.7" /><path d="M611.8 296.6 A17 17 0 0 1 628.8 313.6" fill="none" stroke="#abb0b6" stroke-width="0.45" />
<rect x="665.6" y="315.7" width="8.2" height="14.6" fill="none" stroke="#b4b8bc" stroke-width="0.42" />
<rect x="667" y="317.6" width="5.6" height="10.8" fill="none" stroke="#abb0b6" stroke-width="0.42" rx="1.6"/>
<path d="M669.6 323 H677" fill="none" stroke="#8d9197" stroke-width="0.5" />
<ellipse cx="667.4" cy="338" rx="4.2" ry="3.3" fill="none" stroke="#abb0b6" stroke-width="0.5"/>
<rect x="671.6" y="335" width="2.4" height="6" fill="none" stroke="#abb0b6" stroke-width="0.42" />
<path d="M643.9 316.6 H660" fill="none" stroke="#8a8f96" stroke-width="0.6" />
<path d="M660 316.8 Q659 325 652 331" fill="none" stroke="#abb0b6" stroke-width="0.4" />
<rect x="644.1" y="344.9" width="28.4" height="14.2" fill="#ffffff" stroke="#b4b8bc" stroke-width="0.42" fill-opacity="0.25"/>
<path d="M644.1 344.9 L672.5 352 L644.1 359.1" fill="none" stroke="#b4b8bc" stroke-width="0.45" />
<rect x="644.1" y="362.2" width="28.4" height="12.3" fill="#ffffff" stroke="#b4b8bc" stroke-width="0.42" fill-opacity="0.25"/>
<path d="M644.1 362.2 L672.5 368.3 L644.1 374.5" fill="none" stroke="#b4b8bc" stroke-width="0.45" />
<ellipse cx="667.4" cy="382.2" rx="4.2" ry="3.3" fill="none" stroke="#abb0b6" stroke-width="0.5"/>
<rect x="671.6" y="379.2" width="2.4" height="6" fill="none" stroke="#abb0b6" stroke-width="0.42" />
<rect x="665.6" y="389.8" width="8.2" height="13.8" fill="none" stroke="#b4b8bc" stroke-width="0.42" />
<rect x="667" y="391.6" width="5.6" height="10.2" fill="none" stroke="#abb0b6" stroke-width="0.42" rx="1.6"/>
<path d="M669.6 396.8 H677" fill="none" stroke="#8d9197" stroke-width="0.5" />
<path d="M642.2 405.8 H674.6" fill="none" stroke="#aeb2b8" stroke-width="1.2" />
<path d="M643 405.2 L659.8 405.2" fill="none" stroke="#8a8f96" stroke-width="0.7" /><path d="M659.8 405.2 A16.8 16.8 0 0 0 643 388.4" fill="none" stroke="#abb0b6" stroke-width="0.45" />
<path d="M639.3 336.2 L639.3 355.2" fill="none" stroke="#8a8f96" stroke-width="0.7" /><path d="M639.3 355.2 A19 19 0 0 1 620.9 336.4" fill="none" stroke="#abb0b6" stroke-width="0.45" />
<rect x="638.5" y="336.2" width="1.5" height="19" fill="none" stroke="#8a8f96" stroke-width="0.4" />
<rect x="634.6" y="423.9" width="31.9" height="30.4" fill="#ffffff" stroke="#abb0b6" stroke-width="0.42" fill-opacity="0.25"/><path d="M656.61 423.9 L666.5 454.3" fill="none" stroke="#abb0b6" stroke-width="0.42" />
<rect x="667.3" y="414" width="6.9" height="9.2" fill="none" stroke="#abb0b6" stroke-width="0.42" />
<rect x="667.3" y="455.2" width="6.9" height="9.8" fill="none" stroke="#abb0b6" stroke-width="0.42" />
<rect x="667.3" y="423.9" width="6.9" height="30.4" fill="none" stroke="#b4b8bc" stroke-width="0.42" />
<rect x="625" y="470.2" width="44.3" height="3" fill="#fff" />
<path d="M625 470.2 H669.3 M625 471.7 H669.3 M625 473.2 H669.3 M647 470.2 v1.5" fill="none" stroke="#aeb2b8" stroke-width="0.45" />
<rect x="660.5" y="476.2" width="14.1" height="30.2" fill="#ffffff" stroke="#9a9fa6" stroke-width="0.45" fill-opacity="0.3"/>
<rect x="609.8" y="244.1" width="15.2" height="5.8" fill="#545a6c" />
<rect x="661.2" y="244.1" width="16.5" height="5.8" fill="#545a6c" />
<rect x="629.3" y="312.1" width="45.3" height="2.5" fill="#545a6c" />
<rect x="641" y="314.6" width="2.4" height="2.2" fill="#545a6c" />
<rect x="641.2" y="334.2" width="2.6" height="27.5" fill="#545a6c" />
<rect x="641.2" y="359" width="33.4" height="2.7" fill="#545a6c" />
<rect x="642.4" y="361.7" width="1.4" height="26.7" fill="#6a707c" />
<rect x="674.6" y="244.1" width="3.2" height="258.9" fill="#545a6c" />
<rect x="669.4" y="470" width="8.4" height="5.7" fill="#545a6c" />
<rect x="674.2" y="345.6" width="2" height="13" fill="#f2f3f5" /></g>
<g transform="matrix(-1 0 0 1 1355.8 0)" ><rect x="494.2" y="315.3" width="32.9" height="17.4" fill="none" stroke="#a9adb3" stroke-width="0.45" />
<path d="M513.6 317.5 V332.7" fill="none" stroke="#b4b8bc" stroke-width="0.4" />
<rect x="529.8" y="317.5" width="6.5" height="15.2" fill="url(#duct)"/>
<rect x="527.1" y="317.5" width="2.7" height="15.5" fill="#545a6c" />
<rect x="493.6" y="332.6" width="42.7" height="2.1" fill="#545a6c" />
<rect x="494" y="335.7" width="12.2" height="10.9" fill="none" stroke="#abb0b6" stroke-width="0.42" />
<path d="M506.2 335.7 H524.5 M506.2 346.6 H524.5 M494 346.6 V335.7" fill="none" stroke="#abb0b6" stroke-width="0.45" />
<rect x="510" y="335.7" width="12.2" height="9.9" fill="none" stroke="#8d9197" stroke-width="0.42" />
<circle cx="513.2" cy="338.4" r="1.5" fill="none" stroke="#9a9fa6" stroke-width="0.4"/>
<circle cx="519" cy="338.4" r="1.5" fill="none" stroke="#9a9fa6" stroke-width="0.4"/>
<circle cx="513.2" cy="343" r="1.5" fill="none" stroke="#9a9fa6" stroke-width="0.4"/>
<circle cx="519" cy="343" r="1.5" fill="none" stroke="#9a9fa6" stroke-width="0.4"/>
<rect x="524.5" y="335.7" width="11.8" height="35.8" fill="none" stroke="#abb0b6" stroke-width="0.42" />
<path d="M524.5 346.6 H536.3 M524.5 359.8 H536.3 M530.3 346.6 V359.8" fill="none" stroke="#abb0b6" stroke-width="0.45" />
<rect x="526" y="361.2" width="8.8" height="9" fill="none" stroke="#abb0b6" stroke-width="0.42" rx="1.2"/>
<path d="M530.4 363 V368.4" fill="none" stroke="#8d9197" stroke-width="0.6" />
<rect x="491.8" y="370.8" width="44.5" height="17.4" fill="#ffffff" stroke="#abb0b6" stroke-width="0.42" fill-opacity="0.25"/>
<path d="M491.8 383.4 H536.3 M500.2 370.8 V383.4 M512.4 370.8 V383.4 M524.5 370.8 V383.4" fill="none" stroke="#abb0b6" stroke-width="0.45" />
<rect x="501.6" y="389.6" width="6.2" height="2.7" fill="none" stroke="#abb0b6" stroke-width="0.42" />
<rect x="513.8" y="389.6" width="6.2" height="2.7" fill="none" stroke="#abb0b6" stroke-width="0.42" />
<rect x="462.6" y="342.1" width="6.6" height="44" fill="none" stroke="#c0c4c8" stroke-width="0.35" />
<rect x="509.3" y="413" width="25.1" height="16.8" fill="#ffffff" stroke="#abb0b6" stroke-width="0.42" fill-opacity="0.2"/>
<rect x="511" y="406.3" width="7.4" height="9" fill="none" stroke="#abb0b6" stroke-width="0.42" rx="1.3"/>
<path d="M511 408.3 H518.4" fill="none" stroke="#abb0b6" stroke-width="0.4" />
<rect x="511" y="427.6" width="7.4" height="9" fill="none" stroke="#abb0b6" stroke-width="0.42" rx="1.3"/>
<path d="M511 434.6 H518.4" fill="none" stroke="#abb0b6" stroke-width="0.4" />
<rect x="524" y="406.3" width="7.4" height="9" fill="none" stroke="#abb0b6" stroke-width="0.42" rx="1.3"/>
<path d="M524 408.3 H531.4" fill="none" stroke="#abb0b6" stroke-width="0.4" />
<rect x="524" y="427.6" width="7.4" height="9" fill="none" stroke="#abb0b6" stroke-width="0.42" rx="1.3"/>
<path d="M524 434.6 H531.4" fill="none" stroke="#abb0b6" stroke-width="0.4" />
<rect x="461.9" y="441.2" width="10.1" height="12.1" fill="none" stroke="#abb0b6" stroke-width="0.42" />
<rect x="462" y="458.3" width="13" height="39.2" fill="none" stroke="#abb0b6" stroke-width="0.42" rx="1"/>
<path d="M464.6 461.5 V494.5 M464.6 461.5 H475 M464.6 494.5 H475 M464.6 472.6 H475 M464.6 483.6 H475" fill="none" stroke="#abb0b6" stroke-width="0.45" />
<rect x="492.2" y="468" width="10.2" height="20.3" fill="none" stroke="#abb0b6" stroke-width="0.42" />
<rect x="529.5" y="450.7" width="6.8" height="42.5" fill="none" stroke="#abb0b6" stroke-width="0.42" />
<path d="M532 461.7 V482.8" fill="none" stroke="#8d9197" stroke-width="0.9" />
<rect x="476.1" y="501.4" width="60.2" height="4.3" fill="#fff" />
<path d="M476.1 501.4 H536.3 M476.1 503.5 H536.3 M476.1 505.7 H536.3" fill="none" stroke="#aeb2b8" stroke-width="0.45" />
<rect x="457.5" y="336.5" width="14.9" height="4.8" fill="#545a6c" />
<rect x="462.6" y="337.8" width="2.4" height="2.3" fill="#e8eaee" />
<rect x="466.4" y="337.8" width="2.4" height="2.3" fill="#e8eaee" />
<rect x="470.2" y="336.5" width="2.3" height="53.2" fill="#545a6c" />
<rect x="458.3" y="387.2" width="14.2" height="2.5" fill="#545a6c" />
<rect x="458.5" y="336.5" width="2.9" height="134.5" fill="#545a6c" />
<path d="M454.2 470.8 H461.8 V500.7 H476.1 V506.4 H457.2 Q454.2 506.4 454.2 503.4 Z" fill="#545a6c"/></g>
<g transform="matrix(-1 0 0 1 1632.2 0)" ><rect x="625" y="244.6" width="36.2" height="4.8" fill="#fff" />
<path d="M625 244.8 H661.2 M625 247 H661.2 M625 249.2 H661.2 M643.1 247 v2" fill="none" stroke="#aeb2b8" stroke-width="0.45" />
<rect x="610.3" y="250.2" width="11.4" height="41.8" fill="#ffffff" stroke="#b4b8bc" stroke-width="0.42" fill-opacity="0.3"/>
<rect x="636" y="260.8" width="37.4" height="15.2" fill="#ffffff" stroke="#abb0b6" stroke-width="0.42" fill-opacity="0.25"/><path d="M669.66 260.8 L656.57 276" fill="none" stroke="#abb0b6" stroke-width="0.42" />
<rect x="636" y="289.7" width="37.4" height="16.8" fill="#ffffff" stroke="#abb0b6" stroke-width="0.42" fill-opacity="0.25"/><path d="M669.66 289.7 L656.57 306.5" fill="none" stroke="#abb0b6" stroke-width="0.42" />
<rect x="667.4" y="278.3" width="6.2" height="9.9" fill="none" stroke="#abb0b6" stroke-width="0.42" />
<path d="M611.8 313.6 L611.8 296.6" fill="none" stroke="#8a8f96" stroke-width="0.7" /><path d="M611.8 296.6 A17 17 0 0 1 628.8 313.6" fill="none" stroke="#abb0b6" stroke-width="0.45" />
<rect x="665.6" y="315.7" width="8.2" height="14.6" fill="none" stroke="#b4b8bc" stroke-width="0.42" />
<rect x="667" y="317.6" width="5.6" height="10.8" fill="none" stroke="#abb0b6" stroke-width="0.42" rx="1.6"/>
<path d="M669.6 323 H677" fill="none" stroke="#8d9197" stroke-width="0.5" />
<ellipse cx="667.4" cy="338" rx="4.2" ry="3.3" fill="none" stroke="#abb0b6" stroke-width="0.5"/>
<rect x="671.6" y="335" width="2.4" height="6" fill="none" stroke="#abb0b6" stroke-width="0.42" />
<path d="M643.9 316.6 H660" fill="none" stroke="#8a8f96" stroke-width="0.6" />
<path d="M660 316.8 Q659 325 652 331" fill="none" stroke="#abb0b6" stroke-width="0.4" />
<rect x="644.1" y="344.9" width="28.4" height="14.2" fill="#ffffff" stroke="#b4b8bc" stroke-width="0.42" fill-opacity="0.25"/>
<path d="M644.1 344.9 L672.5 352 L644.1 359.1" fill="none" stroke="#b4b8bc" stroke-width="0.45" />
<rect x="644.1" y="362.2" width="28.4" height="12.3" fill="#ffffff" stroke="#b4b8bc" stroke-width="0.42" fill-opacity="0.25"/>
<path d="M644.1 362.2 L672.5 368.3 L644.1 374.5" fill="none" stroke="#b4b8bc" stroke-width="0.45" />
<ellipse cx="667.4" cy="382.2" rx="4.2" ry="3.3" fill="none" stroke="#abb0b6" stroke-width="0.5"/>
<rect x="671.6" y="379.2" width="2.4" height="6" fill="none" stroke="#abb0b6" stroke-width="0.42" />
<rect x="665.6" y="389.8" width="8.2" height="13.8" fill="none" stroke="#b4b8bc" stroke-width="0.42" />
<rect x="667" y="391.6" width="5.6" height="10.2" fill="none" stroke="#abb0b6" stroke-width="0.42" rx="1.6"/>
<path d="M669.6 396.8 H677" fill="none" stroke="#8d9197" stroke-width="0.5" />
<path d="M642.2 405.8 H674.6" fill="none" stroke="#aeb2b8" stroke-width="1.2" />
<path d="M643 405.2 L659.8 405.2" fill="none" stroke="#8a8f96" stroke-width="0.7" /><path d="M659.8 405.2 A16.8 16.8 0 0 0 643 388.4" fill="none" stroke="#abb0b6" stroke-width="0.45" />
<path d="M639.3 336.2 L639.3 355.2" fill="none" stroke="#8a8f96" stroke-width="0.7" /><path d="M639.3 355.2 A19 19 0 0 1 620.9 336.4" fill="none" stroke="#abb0b6" stroke-width="0.45" />
<rect x="638.5" y="336.2" width="1.5" height="19" fill="none" stroke="#8a8f96" stroke-width="0.4" />
<rect x="634.6" y="423.9" width="31.9" height="30.4" fill="#ffffff" stroke="#abb0b6" stroke-width="0.42" fill-opacity="0.25"/><path d="M656.61 423.9 L666.5 454.3" fill="none" stroke="#abb0b6" stroke-width="0.42" />
<rect x="667.3" y="414" width="6.9" height="9.2" fill="none" stroke="#abb0b6" stroke-width="0.42" />
<rect x="667.3" y="455.2" width="6.9" height="9.8" fill="none" stroke="#abb0b6" stroke-width="0.42" />
<rect x="667.3" y="423.9" width="6.9" height="30.4" fill="none" stroke="#b4b8bc" stroke-width="0.42" />
<rect x="625" y="470.2" width="44.3" height="3" fill="#fff" />
<path d="M625 470.2 H669.3 M625 471.7 H669.3 M625 473.2 H669.3 M647 470.2 v1.5" fill="none" stroke="#aeb2b8" stroke-width="0.45" />
<rect x="660.5" y="476.2" width="14.1" height="30.2" fill="#ffffff" stroke="#9a9fa6" stroke-width="0.45" fill-opacity="0.3"/>
<rect x="609.8" y="244.1" width="15.2" height="5.8" fill="#545a6c" />
<rect x="661.2" y="244.1" width="16.5" height="5.8" fill="#545a6c" />
<rect x="629.3" y="312.1" width="45.3" height="2.5" fill="#545a6c" />
<rect x="641" y="314.6" width="2.4" height="2.2" fill="#545a6c" />
<rect x="641.2" y="334.2" width="2.6" height="27.5" fill="#545a6c" />
<rect x="641.2" y="359" width="33.4" height="2.7" fill="#545a6c" />
<rect x="642.4" y="361.7" width="1.4" height="26.7" fill="#6a707c" />
<rect x="674.6" y="244.1" width="3.2" height="258.9" fill="#545a6c" />
<rect x="669.4" y="470" width="8.4" height="5.7" fill="#545a6c" />
<rect x="674.2" y="345.6" width="2" height="13" fill="#f2f3f5" /><rect x="536.3" y="315.2" width="6.4" height="191.2" fill="#545a6c" /></g>
<g transform="matrix(1 0 0 1 553.2 0)" ><rect x="494.2" y="315.3" width="32.9" height="17.4" fill="none" stroke="#a9adb3" stroke-width="0.45" />
<path d="M513.6 317.5 V332.7" fill="none" stroke="#b4b8bc" stroke-width="0.4" />
<rect x="529.8" y="317.5" width="6.5" height="15.2" fill="url(#duct)"/>
<rect x="527.1" y="317.5" width="2.7" height="15.5" fill="#545a6c" />
<rect x="493.6" y="332.6" width="42.7" height="2.1" fill="#545a6c" />
<rect x="494" y="335.7" width="12.2" height="10.9" fill="none" stroke="#abb0b6" stroke-width="0.42" />
<path d="M506.2 335.7 H524.5 M506.2 346.6 H524.5 M494 346.6 V335.7" fill="none" stroke="#abb0b6" stroke-width="0.45" />
<rect x="510" y="335.7" width="12.2" height="9.9" fill="none" stroke="#8d9197" stroke-width="0.42" />
<circle cx="513.2" cy="338.4" r="1.5" fill="none" stroke="#9a9fa6" stroke-width="0.4"/>
<circle cx="519" cy="338.4" r="1.5" fill="none" stroke="#9a9fa6" stroke-width="0.4"/>
<circle cx="513.2" cy="343" r="1.5" fill="none" stroke="#9a9fa6" stroke-width="0.4"/>
<circle cx="519" cy="343" r="1.5" fill="none" stroke="#9a9fa6" stroke-width="0.4"/>
<rect x="524.5" y="335.7" width="11.8" height="35.8" fill="none" stroke="#abb0b6" stroke-width="0.42" />
<path d="M524.5 346.6 H536.3 M524.5 359.8 H536.3 M530.3 346.6 V359.8" fill="none" stroke="#abb0b6" stroke-width="0.45" />
<rect x="526" y="361.2" width="8.8" height="9" fill="none" stroke="#abb0b6" stroke-width="0.42" rx="1.2"/>
<path d="M530.4 363 V368.4" fill="none" stroke="#8d9197" stroke-width="0.6" />
<rect x="491.8" y="370.8" width="44.5" height="17.4" fill="#ffffff" stroke="#abb0b6" stroke-width="0.42" fill-opacity="0.25"/>
<path d="M491.8 383.4 H536.3 M500.2 370.8 V383.4 M512.4 370.8 V383.4 M524.5 370.8 V383.4" fill="none" stroke="#abb0b6" stroke-width="0.45" />
<rect x="501.6" y="389.6" width="6.2" height="2.7" fill="none" stroke="#abb0b6" stroke-width="0.42" />
<rect x="513.8" y="389.6" width="6.2" height="2.7" fill="none" stroke="#abb0b6" stroke-width="0.42" />
<rect x="462.6" y="342.1" width="6.6" height="44" fill="none" stroke="#c0c4c8" stroke-width="0.35" />
<rect x="509.3" y="413" width="25.1" height="16.8" fill="#ffffff" stroke="#abb0b6" stroke-width="0.42" fill-opacity="0.2"/>
<rect x="511" y="406.3" width="7.4" height="9" fill="none" stroke="#abb0b6" stroke-width="0.42" rx="1.3"/>
<path d="M511 408.3 H518.4" fill="none" stroke="#abb0b6" stroke-width="0.4" />
<rect x="511" y="427.6" width="7.4" height="9" fill="none" stroke="#abb0b6" stroke-width="0.42" rx="1.3"/>
<path d="M511 434.6 H518.4" fill="none" stroke="#abb0b6" stroke-width="0.4" />
<rect x="524" y="406.3" width="7.4" height="9" fill="none" stroke="#abb0b6" stroke-width="0.42" rx="1.3"/>
<path d="M524 408.3 H531.4" fill="none" stroke="#abb0b6" stroke-width="0.4" />
<rect x="524" y="427.6" width="7.4" height="9" fill="none" stroke="#abb0b6" stroke-width="0.42" rx="1.3"/>
<path d="M524 434.6 H531.4" fill="none" stroke="#abb0b6" stroke-width="0.4" />
<rect x="461.9" y="441.2" width="10.1" height="12.1" fill="none" stroke="#abb0b6" stroke-width="0.42" />
<rect x="462" y="458.3" width="13" height="39.2" fill="none" stroke="#abb0b6" stroke-width="0.42" rx="1"/>
<path d="M464.6 461.5 V494.5 M464.6 461.5 H475 M464.6 494.5 H475 M464.6 472.6 H475 M464.6 483.6 H475" fill="none" stroke="#abb0b6" stroke-width="0.45" />
<rect x="492.2" y="468" width="10.2" height="20.3" fill="none" stroke="#abb0b6" stroke-width="0.42" />
<rect x="529.5" y="450.7" width="6.8" height="42.5" fill="none" stroke="#abb0b6" stroke-width="0.42" />
<path d="M532 461.7 V482.8" fill="none" stroke="#8d9197" stroke-width="0.9" />
<rect x="476.1" y="501.4" width="60.2" height="4.3" fill="#fff" />
<path d="M476.1 501.4 H536.3 M476.1 503.5 H536.3 M476.1 505.7 H536.3" fill="none" stroke="#aeb2b8" stroke-width="0.45" />
<rect x="457.5" y="336.5" width="14.9" height="4.8" fill="#545a6c" />
<rect x="462.6" y="337.8" width="2.4" height="2.3" fill="#e8eaee" />
<rect x="466.4" y="337.8" width="2.4" height="2.3" fill="#e8eaee" />
<rect x="470.2" y="336.5" width="2.3" height="53.2" fill="#545a6c" />
<rect x="458.3" y="387.2" width="14.2" height="2.5" fill="#545a6c" />
<rect x="458.5" y="336.5" width="2.9" height="134.5" fill="#545a6c" />
<path d="M454.2 470.8 H461.8 V500.7 H476.1 V506.4 H457.2 Q454.2 506.4 454.2 503.4 Z" fill="#545a6c"/></g>
<g transform="matrix(-1 0 0 1 1632.2 0)" ><rect x="467.5" y="203.2" width="142.6" height="32" fill="#fff" stroke="#8d9197" stroke-width="0.7"/>
<rect x="471.5" y="207" width="134.2" height="27.8" fill="url(#speck)" stroke="#6d7178" stroke-width="0.6"/>
<path d="M471.5 207.2 L604.5 234.6" fill="none" stroke="#777" stroke-width="0.45" />
<path d="M471.3 206.8 h1.6 v1.6 h-1.6 z" fill="none" stroke="#555" stroke-width="0.4" />
<path d="M497.9 224.6 L502.6 228 L500.6 228 L500.6 230.3 L495.2 230.3 L495.2 228 L493.2 228 Z" fill="#fff" stroke="#888" stroke-width="0.4" />
<path d="M558.2 216.6 L561.4 212.2 L561.4 214.2 L563.7 214.2 L563.7 219 L561.4 219 L561.4 221 Z" fill="#fff" stroke="#888" stroke-width="0.4" />
<rect x="470" y="238" width="137" height="71.3" fill="#fff" />
<rect x="492.3" y="309" width="93.1" height="6.2" fill="#fff" />
<path d="M499.1 241.4 V260.9 M504.8 241.4 V260.9 M511 241.4 V260.9 M516.7 241.4 V260.9 M522.4 241.4 V260.9 M527.5 241.4 V260.9 M533.2 241.4 V260.9 M482.6 251 H549.2 M482.6 251 V261.6 M539.5 251 V283.6 M549.2 251 V283.6 M474.1 261.4 H493.4 M474.1 266.4 H493.4 M474.1 269.9 H493.4 M474.1 273.9 H493.4 M474.1 278.9 H493.4 M474.1 283 H493.4 M539.5 261.6 H559.2 M539.5 267 H559.2 M539.5 272.2 H559.2 M539.5 277.4 H559.2 M539.5 283.6 Q549 283.6 556 277.6" fill="none" stroke="#a4a8ad" stroke-width="0.5" />
<rect x="493.4" y="261.6" width="44.4" height="22.1" fill="#fff" stroke="#8d9197" stroke-width="0.6" />
<rect x="494.6" y="262.7" width="42" height="19.9" fill="none" stroke="#b4b8bc" stroke-width="0.4" />
<path d="M515.1 261.6 V283.7 M516.3 261.6 V283.7" fill="none" stroke="#9a9fa6" stroke-width="0.4" />
<path d="M511.6 241.4 L504.6 261.6" fill="none" stroke="#5a5f68" stroke-width="1.0" />
<path d="M494 240.2 H558.8" fill="none" stroke="#6d7178" stroke-width="2.2" stroke-dasharray="1.1 1.15"/>
<path d="M490.3 259.2 l1.6 0 l-0.8 1.3 z" fill="#333"/>
<path d="M524.7 259.2 l1.6 0 l-0.8 1.3 z" fill="#333"/>
<path d="M556.4 274.4 l1.6 0 l-0.8 1.3 z" fill="#333"/>
<path d="M556.4 284.9 l1.6 0 l-0.8 1.3 z" fill="#333"/>
<rect x="567.9" y="242.6" width="31.4" height="34.7" fill="#fff" stroke="#b0b4b9" stroke-width="0.5" />
<path d="M601.6 242 V278" fill="none" stroke="#b0b4b9" stroke-width="0.5" stroke-dasharray="1.5 1"/>
<rect x="569.6" y="247" width="2" height="26" fill="none" stroke="#c0c4c8" stroke-width="0.4" />
<rect x="573.6" y="245.9" width="23.3" height="29" fill="#fff" stroke="#8d9197" stroke-width="0.6" />
<path d="M573.6 245.9 L596.9 274.9 M596.9 245.9 L573.6 274.9" fill="none" stroke="#b4b8bc" stroke-width="0.45" />
<path d="M574.4 278.3 H595.8 M574.4 279.6 H595.8" fill="none" stroke="#9a9fa6" stroke-width="0.4" />
<rect x="467.5" y="235" width="6.6" height="86.5" fill="#545a6c" />
<rect x="467.5" y="235" width="26.1" height="6.4" fill="#545a6c" />
<rect x="559.2" y="235" width="50.9" height="6.4" fill="#545a6c" />
<rect x="559.2" y="235" width="6.4" height="48.4" fill="#545a6c" />
<rect x="603.7" y="235" width="6.4" height="78.8" fill="#545a6c" />
<rect x="565.6" y="278.9" width="8.8" height="3.5" fill="#545a6c" />
<rect x="595.8" y="278.9" width="7.9" height="3.5" fill="#545a6c" />
<rect x="460.6" y="319.4" width="13.5" height="2.2" fill="#545a6c" />
<rect x="513.5" y="309.1" width="52.3" height="8.4" fill="#545a6c" />
<rect x="492.3" y="309.1" width="7.5" height="5.4" fill="#545a6c" />
<rect x="579.9" y="309.1" width="5.5" height="5.4" fill="#545a6c" />
<path d="M499.8 310.4 H513.5 M499.8 313.2 H513.5 M565.6 310.4 H579.9 M565.6 313.2 H579.9" fill="none" stroke="#9a9fa6" stroke-width="0.4" />
<rect x="518.8" y="311.5" width="9.1" height="2.2" fill="#e4e6ea" />
<rect x="531.3" y="311.5" width="4.9" height="2.2" fill="#e4e6ea" />
<rect x="542.3" y="311.5" width="6.1" height="2.2" fill="#e4e6ea" />
<rect x="551.4" y="311.5" width="9.5" height="2.2" fill="#e4e6ea" />
<rect x="520.6" y="311.5" width="0.8" height="1.3" fill="#545a6c" />
<rect x="523" y="311.5" width="0.8" height="1.3" fill="#545a6c" />
<rect x="525.4" y="311.5" width="0.8" height="1.3" fill="#545a6c" />
<rect x="532.6" y="311.5" width="0.8" height="1.3" fill="#545a6c" />
<rect x="534.4" y="311.5" width="0.8" height="1.3" fill="#545a6c" />
<rect x="543.8" y="311.5" width="0.8" height="1.3" fill="#545a6c" />
<rect x="546" y="311.5" width="0.8" height="1.3" fill="#545a6c" />
<rect x="556" y="311.5" width="0.8" height="1.3" fill="#545a6c" />
<rect x="558.2" y="311.5" width="0.8" height="1.3" fill="#545a6c" />
<path d="M475 315.2 L475 331.6" fill="none" stroke="#8a8f96" stroke-width="0.7" /><path d="M475 331.6 A16.5 16.5 0 0 0 491.6 315.2" fill="none" stroke="#abb0b6" stroke-width="0.45" />
<path d="M603 315.2 L603 331.6" fill="none" stroke="#8a8f96" stroke-width="0.7" /><path d="M603 331.6 A16.5 16.5 0 0 1 586.4 315.2" fill="none" stroke="#abb0b6" stroke-width="0.45" /></g>
<g transform="matrix(-1 0 0 1 1632.2 0)" ><rect x="386.8" y="253" width="36.5" height="4" fill="#fff" />
<path d="M386.8 253.2 H423.3 M386.8 255 H423.3 M386.8 256.8 H423.3" fill="none" stroke="#aeb2b8" stroke-width="0.45" />
<rect x="443.9" y="264.2" width="23.6" height="5.2" fill="#fff" />
<path d="M443.9 264.2 H467.5 M443.9 266.4 H467.5 M443.9 268.8 H467.5" fill="none" stroke="#aeb2b8" stroke-width="0.45" />
<rect x="426.4" y="257.8" width="11.9" height="38.8" fill="#ffffff" stroke="#b4b8bc" stroke-width="0.42" fill-opacity="0.3"/>
<rect x="377.7" y="263.6" width="32.7" height="15.4" fill="#ffffff" stroke="#abb0b6" stroke-width="0.42" fill-opacity="0.25"/><path d="M378.68 263.6 L390.78 279" fill="none" stroke="#abb0b6" stroke-width="0.42" />
<rect x="377.7" y="294.3" width="32.7" height="15.2" fill="#ffffff" stroke="#abb0b6" stroke-width="0.42" fill-opacity="0.25"/><path d="M378.68 294.3 L390.78 309.5" fill="none" stroke="#abb0b6" stroke-width="0.42" />
<rect x="373" y="281.4" width="6" height="9.9" fill="none" stroke="#abb0b6" stroke-width="0.42" />
<rect x="442.6" y="270" width="22.8" height="13" fill="#ffffff" stroke="#b4b8bc" stroke-width="0.42" fill-opacity="0.25"/>
<path d="M442.6 270 L465.4 276.5 L442.6 283" fill="none" stroke="#b4b8bc" stroke-width="0.45" />
<ellipse cx="460.6" cy="290" rx="4.2" ry="3.3" fill="none" stroke="#abb0b6" stroke-width="0.5"/>
<rect x="464.4" y="287" width="2.4" height="6" fill="none" stroke="#abb0b6" stroke-width="0.42" />
<rect x="459.6" y="300" width="7.6" height="10" fill="none" stroke="#abb0b6" stroke-width="0.42" rx="1.4"/>
<path d="M463 305 H467.5" fill="none" stroke="#8d9197" stroke-width="0.5" />
<path d="M436.3 320.4 L436.3 303.2" fill="none" stroke="#8a8f96" stroke-width="0.7" /><path d="M436.3 303.2 A17 17 0 0 0 419.4 320.4" fill="none" stroke="#abb0b6" stroke-width="0.45" />
<path d="M443.4 320.4 L443.4 303.2" fill="none" stroke="#8a8f96" stroke-width="0.7" /><path d="M443.4 303.2 A17 17 0 0 1 460.4 320.4" fill="none" stroke="#abb0b6" stroke-width="0.45" />
<path d="M434.2 344 L434.2 361" fill="none" stroke="#8a8f96" stroke-width="0.7" /><path d="M434.2 361 A17 17 0 0 1 417.2 344" fill="none" stroke="#abb0b6" stroke-width="0.45" />
<path d="M439.4 344 L439.4 361" fill="none" stroke="#8a8f96" stroke-width="0.7" /><path d="M439.4 361 A17 17 0 0 0 456.4 344" fill="none" stroke="#abb0b6" stroke-width="0.45" />
<rect x="433.4" y="344" width="1.6" height="17" fill="none" stroke="#8a8f96" stroke-width="0.4" />
<rect x="438.6" y="344" width="1.6" height="17" fill="none" stroke="#8a8f96" stroke-width="0.4" />
<rect x="435.5" y="303.2" width="1.6" height="17.2" fill="none" stroke="#8a8f96" stroke-width="0.4" />
<rect x="442.6" y="303.2" width="1.6" height="17.2" fill="none" stroke="#8a8f96" stroke-width="0.4" />
<rect x="364.8" y="334.2" width="31.9" height="30.4" fill="#ffffff" stroke="#abb0b6" stroke-width="0.42" fill-opacity="0.25"/><path d="M375.97 334.2 L365.44 364.6" fill="none" stroke="#abb0b6" stroke-width="0.42" />
<rect x="357.2" y="322.8" width="6.8" height="10.6" fill="none" stroke="#abb0b6" stroke-width="0.42" />
<rect x="357.2" y="365.4" width="6.8" height="10.6" fill="none" stroke="#abb0b6" stroke-width="0.42" />
<rect x="357.2" y="334.2" width="6.8" height="30.4" fill="none" stroke="#b4b8bc" stroke-width="0.42" />
<rect x="411.9" y="368.4" width="22.8" height="11.4" fill="#ffffff" stroke="#b4b8bc" stroke-width="0.42" fill-opacity="0.3"/>
<rect x="356.4" y="380" width="29.6" height="3.4" fill="#fff" />
<path d="M356.4 380 H386 M356.4 381.7 H386 M356.4 383.4 H386 M371 381.7 v1.7" fill="none" stroke="#aeb2b8" stroke-width="0.45" />
<rect x="391.4" y="384.2" width="13.6" height="25" fill="#ffffff" stroke="#b4b8bc" stroke-width="0.42" fill-opacity="0.25"/>
<path d="M391.4 409.2 L398.2 384.2 L405 409.2" fill="none" stroke="#b4b8bc" stroke-width="0.45" />
<ellipse cx="412.2" cy="390.4" rx="3.3" ry="4.2" fill="none" stroke="#abb0b6" stroke-width="0.5"/>
<rect x="409.2" y="384.4" width="6" height="2.4" fill="none" stroke="#abb0b6" stroke-width="0.42" />
<rect x="421.8" y="384.6" width="10" height="7.2" fill="none" stroke="#abb0b6" stroke-width="0.42" rx="1.4"/>
<path d="M426.8 384 V388.5" fill="none" stroke="#8d9197" stroke-width="0.5" />
<path d="M436.2 392.8 V404" fill="none" stroke="#9a9fa6" stroke-width="0.5" />
<path d="M404.6 409.9 H436" fill="none" stroke="#aeb2b8" stroke-width="0.45" />
<rect x="405.8" y="426" width="39.6" height="30.4" fill="#ffffff" stroke="#abb0b6" stroke-width="0.42" fill-opacity="0.25"/><path d="M424.02 426 L411.74 456.4" fill="none" stroke="#abb0b6" stroke-width="0.42" />
<rect x="405.8" y="414.8" width="5.6" height="10.4" fill="none" stroke="#abb0b6" stroke-width="0.42" />
<rect x="405.8" y="457.2" width="5.6" height="10" fill="none" stroke="#abb0b6" stroke-width="0.42" />
<rect x="409.6" y="470.2" width="44.6" height="2.8" fill="#fff" />
<path d="M409.6 470.2 H454.2 M409.6 471.6 H454.2 M409.6 473 H454.2 M432 470.2 v1.4" fill="none" stroke="#aeb2b8" stroke-width="0.45" />
<rect x="439.6" y="476.2" width="14.6" height="30.2" fill="#ffffff" stroke="#9a9fa6" stroke-width="0.45" fill-opacity="0.3"/>
<rect x="365.5" y="252.5" width="6.9" height="70.3" fill="#545a6c" />
<rect x="365.5" y="252.5" width="21.3" height="5.1" fill="#545a6c" />
<rect x="423.3" y="252.5" width="20.6" height="5.1" fill="#545a6c" />
<rect x="438.4" y="252.5" width="5.5" height="17.5" fill="#545a6c" />
<rect x="439" y="270" width="2.8" height="52.2" fill="#545a6c" />
<rect x="349.6" y="316.7" width="22.8" height="6.1" fill="#545a6c" />
<rect x="372.4" y="320.2" width="47.1" height="2.6" fill="#545a6c" />
<rect x="349.6" y="316.7" width="6.8" height="69.2" fill="#545a6c" />
<rect x="349.6" y="383.4" width="8.4" height="2.5" fill="#545a6c" />
<rect x="412.4" y="322.8" width="2.9" height="21.4" fill="#545a6c" />
<rect x="411.6" y="341.6" width="5" height="2.6" fill="#545a6c" />
<rect x="434.9" y="342.6" width="2.7" height="50.2" fill="#545a6c" />
<rect x="433.6" y="342.4" width="5.4" height="2" fill="#545a6c" />
<rect x="386" y="380.6" width="50.3" height="3.5" fill="#545a6c" />
<rect x="386" y="380.6" width="4.6" height="34.2" fill="#545a6c" />
<rect x="398.2" y="409.7" width="6.4" height="65.8" fill="#545a6c" />
<rect x="398.2" y="409.7" width="21.4" height="2.3" fill="#545a6c" />
<circle cx="401.5" cy="413.2" r="0.7" fill="#e8eaee"/>
<rect x="398.2" y="470" width="11.4" height="5.5" fill="#545a6c" /><rect x="494.2" y="315.3" width="32.9" height="17.4" fill="none" stroke="#a9adb3" stroke-width="0.45" />
<path d="M513.6 317.5 V332.7" fill="none" stroke="#b4b8bc" stroke-width="0.4" />
<rect x="529.8" y="317.5" width="6.5" height="15.2" fill="url(#duct)"/>
<rect x="527.1" y="317.5" width="2.7" height="15.5" fill="#545a6c" />
<rect x="493.6" y="332.6" width="42.7" height="2.1" fill="#545a6c" />
<rect x="494" y="335.7" width="12.2" height="10.9" fill="none" stroke="#abb0b6" stroke-width="0.42" />
<path d="M506.2 335.7 H524.5 M506.2 346.6 H524.5 M494 346.6 V335.7" fill="none" stroke="#abb0b6" stroke-width="0.45" />
<rect x="510" y="335.7" width="12.2" height="9.9" fill="none" stroke="#8d9197" stroke-width="0.42" />
<circle cx="513.2" cy="338.4" r="1.5" fill="none" stroke="#9a9fa6" stroke-width="0.4"/>
<circle cx="519" cy="338.4" r="1.5" fill="none" stroke="#9a9fa6" stroke-width="0.4"/>
<circle cx="513.2" cy="343" r="1.5" fill="none" stroke="#9a9fa6" stroke-width="0.4"/>
<circle cx="519" cy="343" r="1.5" fill="none" stroke="#9a9fa6" stroke-width="0.4"/>
<rect x="524.5" y="335.7" width="11.8" height="35.8" fill="none" stroke="#abb0b6" stroke-width="0.42" />
<path d="M524.5 346.6 H536.3 M524.5 359.8 H536.3 M530.3 346.6 V359.8" fill="none" stroke="#abb0b6" stroke-width="0.45" />
<rect x="526" y="361.2" width="8.8" height="9" fill="none" stroke="#abb0b6" stroke-width="0.42" rx="1.2"/>
<path d="M530.4 363 V368.4" fill="none" stroke="#8d9197" stroke-width="0.6" />
<rect x="491.8" y="370.8" width="44.5" height="17.4" fill="#ffffff" stroke="#abb0b6" stroke-width="0.42" fill-opacity="0.25"/>
<path d="M491.8 383.4 H536.3 M500.2 370.8 V383.4 M512.4 370.8 V383.4 M524.5 370.8 V383.4" fill="none" stroke="#abb0b6" stroke-width="0.45" />
<rect x="501.6" y="389.6" width="6.2" height="2.7" fill="none" stroke="#abb0b6" stroke-width="0.42" />
<rect x="513.8" y="389.6" width="6.2" height="2.7" fill="none" stroke="#abb0b6" stroke-width="0.42" />
<rect x="462.6" y="347.9" width="6.6" height="38.2" fill="none" stroke="#c0c4c8" stroke-width="0.35" />
<rect x="509.3" y="413" width="25.1" height="16.8" fill="#ffffff" stroke="#abb0b6" stroke-width="0.42" fill-opacity="0.2"/>
<rect x="511" y="406.3" width="7.4" height="9" fill="none" stroke="#abb0b6" stroke-width="0.42" rx="1.3"/>
<path d="M511 408.3 H518.4" fill="none" stroke="#abb0b6" stroke-width="0.4" />
<rect x="511" y="427.6" width="7.4" height="9" fill="none" stroke="#abb0b6" stroke-width="0.42" rx="1.3"/>
<path d="M511 434.6 H518.4" fill="none" stroke="#abb0b6" stroke-width="0.4" />
<rect x="524" y="406.3" width="7.4" height="9" fill="none" stroke="#abb0b6" stroke-width="0.42" rx="1.3"/>
<path d="M524 408.3 H531.4" fill="none" stroke="#abb0b6" stroke-width="0.4" />
<rect x="524" y="427.6" width="7.4" height="9" fill="none" stroke="#abb0b6" stroke-width="0.42" rx="1.3"/>
<path d="M524 434.6 H531.4" fill="none" stroke="#abb0b6" stroke-width="0.4" />
<rect x="461.9" y="441.2" width="10.1" height="12.1" fill="none" stroke="#abb0b6" stroke-width="0.42" />
<rect x="462" y="458.3" width="13" height="39.2" fill="none" stroke="#abb0b6" stroke-width="0.42" rx="1"/>
<path d="M464.6 461.5 V494.5 M464.6 461.5 H475 M464.6 494.5 H475 M464.6 472.6 H475 M464.6 483.6 H475" fill="none" stroke="#abb0b6" stroke-width="0.45" />
<rect x="492.2" y="468" width="10.2" height="20.3" fill="none" stroke="#abb0b6" stroke-width="0.42" />
<rect x="529.5" y="450.7" width="6.8" height="42.5" fill="none" stroke="#abb0b6" stroke-width="0.42" />
<path d="M532 461.7 V482.8" fill="none" stroke="#8d9197" stroke-width="0.9" />
<rect x="476.1" y="501.4" width="60.2" height="4.3" fill="#fff" />
<path d="M476.1 501.4 H536.3 M476.1 503.5 H536.3 M476.1 505.7 H536.3" fill="none" stroke="#aeb2b8" stroke-width="0.45" />
<rect x="457.5" y="342.3" width="14.9" height="4.8" fill="#545a6c" />
<rect x="462.6" y="343.6" width="2.4" height="2.3" fill="#e8eaee" />
<rect x="466.4" y="343.6" width="2.4" height="2.3" fill="#e8eaee" />
<rect x="470.2" y="342.3" width="2.3" height="47.4" fill="#545a6c" />
<rect x="458.3" y="387.2" width="14.2" height="2.5" fill="#545a6c" />
<rect x="458.5" y="342.3" width="2.9" height="128.7" fill="#545a6c" />
<path d="M454.2 470.8 H461.8 V500.7 H476.1 V506.4 H457.2 Q454.2 506.4 454.2 503.4 Z" fill="#545a6c"/></g>
<path d="M677.7 155.6 V608" stroke="#e8bb4b" stroke-width="2.9" stroke-dasharray="9.3 9.17" fill="none"/>
<path d="M954.5 155.6 V608" stroke="#e8bb4b" stroke-width="2.9" stroke-dasharray="9.3 9.17" fill="none"/>
<g><text x="405" y="285.8" font-size="3.45" font-weight="bold" text-anchor="middle" fill="#15161a">Dormitorio 3</text>
<text x="408" y="290.1" font-size="3.45" font-weight="bold" text-anchor="middle" fill="#15161a">S.U.: 10,10 m²</text>
<text x="452.6" y="295.8" font-size="3.35" font-weight="bold" text-anchor="middle" fill="#15161a">Baño</text>
<text x="452.6" y="299.9" font-size="3.35" font-weight="bold" text-anchor="middle" fill="#15161a">S.U.: 3,80m²</text>
<text x="445" y="329.6" font-size="3.45" font-weight="bold" text-anchor="middle" fill="#15161a">Distribuidor</text>
<text x="445" y="333.8" font-size="3.45" font-weight="bold" text-anchor="middle" fill="#15161a">S.U.: 2,80m²</text>
<text x="407" y="358.1" font-size="3.45" font-weight="bold" text-anchor="middle" fill="#15161a">Dormitorio 2</text>
<text x="409.6" y="362.4" font-size="3.45" font-weight="bold" text-anchor="middle" fill="#15161a">S.U.: 10,10 m²</text>
<text x="431.7" y="417.9" font-size="3.45" font-weight="bold" text-anchor="middle" fill="#15161a">Dormitorio suite 1</text>
<text x="434" y="422.2" font-size="3.45" font-weight="bold" text-anchor="middle" fill="#15161a">S.U.: 13,20 m²</text>
<text x="470" y="539.8" font-size="3.35" font-weight="bold" text-anchor="middle" fill="#15161a">Terrazas</text>
<text x="473.5" y="544" font-size="3.35" font-weight="bold" text-anchor="middle" fill="#15161a">S.U.: 30,60 m²</text>
<text transform="translate(445.9 491.3) rotate(-90)" font-size="3.1" font-weight="bold" text-anchor="middle" fill="#15161a">ESPACIO</text>
<text transform="translate(450.5 491.3) rotate(-90)" font-size="3.1" font-weight="bold" text-anchor="middle" fill="#15161a">SECADO ROPA</text>
<text x="497" y="403.5" font-size="3.45" font-weight="bold" text-anchor="middle" fill="#15161a">Salon-comedor-cocina</text>
<text x="497" y="407.7" font-size="3.45" font-weight="bold" text-anchor="middle" fill="#15161a">S.U.: 30,40 m²</text>
<text x="505" y="323.7" font-size="3.35" font-weight="bold" text-anchor="middle" fill="#15161a">Tendero</text>
<text x="509.4" y="327.8" font-size="3.2" font-weight="bold" text-anchor="middle" fill="#15161a">S.U.: 1,40m²</text>
<text x="500" y="342.3" font-size="2.3" font-weight="bold" text-anchor="middle" fill="#15161a">FRIGO</text>
<text x="516.1" y="344.6" font-size="1.7" font-weight="bold" text-anchor="middle" fill="#15161a">HORNO</text>
<text x="516.1" y="349.7" font-size="2.3" font-weight="bold" text-anchor="middle" fill="#15161a">HORNO</text>
<text x="530.3" y="351.7" font-size="2.2" font-weight="bold" text-anchor="middle" fill="#15161a">LAVA</text>
<text x="530.3" y="354.4" font-size="2.2" font-weight="bold" text-anchor="middle" fill="#15161a">VAJILLAS</text>
<text transform="translate(523.1 327.3) rotate(-90)" font-size="1.9" font-weight="bold" text-anchor="middle" fill="#15161a">LAV</text>
<text transform="translate(525.1 327.3) rotate(-90)" font-size="1.9" font-weight="bold" text-anchor="middle" fill="#15161a">SEC</text>
<text x="643" y="282" font-size="3.45" font-weight="bold" text-anchor="middle" fill="#15161a">Dormitorio 2</text>
<text x="643" y="286.4" font-size="3.45" font-weight="bold" text-anchor="middle" fill="#15161a">S.U.: 10,00 m²</text>
<text x="624.9" y="326.3" font-size="3.45" font-weight="bold" text-anchor="middle" fill="#15161a">Distribuidor</text>
<text x="624.9" y="330.6" font-size="3.45" font-weight="bold" text-anchor="middle" fill="#15161a">S.U.: 1,90m²</text>
<text x="652.9" y="328.6" font-size="3.35" font-weight="bold" text-anchor="middle" fill="#15161a">BAÑO</text>
<text x="652.9" y="333" font-size="3.35" font-weight="bold" text-anchor="middle" fill="#15161a">S.U.: 5,00m²</text>
<text x="649.8" y="414.6" font-size="3.45" font-weight="bold" text-anchor="middle" fill="#15161a">Dormitorio Suite 1º</text>
<text x="649.8" y="419" font-size="3.45" font-weight="bold" text-anchor="middle" fill="#15161a">S.U.: 11,00 m²</text>
<text x="610" y="539.8" font-size="3.35" font-weight="bold" text-anchor="middle" fill="#15161a">Terrazas</text>
<text x="612.5" y="544" font-size="3.35" font-weight="bold" text-anchor="middle" fill="#15161a">S.U.: 33,80 m²</text>
<text transform="translate(666.55 491.3) rotate(-90)" font-size="3.1" font-weight="bold" text-anchor="middle" fill="#15161a">ESPACIO</text>
<text transform="translate(671.15 491.3) rotate(-90)" font-size="3.1" font-weight="bold" text-anchor="middle" fill="#15161a">SECADO ROPA</text>
<text x="513.9" y="296.4" font-size="3.45" font-weight="bold" text-anchor="middle" fill="#15161a">Rellano P1</text>
<text x="511.8" y="300.6" font-size="3.45" font-weight="bold" text-anchor="middle" fill="#15161a">S.U.: 8,00 m²</text>
<text x="497.9" y="233.2" font-size="2.7" font-weight="bold" text-anchor="middle" fill="#15161a">Pte 1%</text>
<text transform="translate(566.1 216.8) rotate(-90)" font-size="2.7" font-weight="bold" text-anchor="middle" fill="#15161a">Pte 1%</text>
<text x="582" y="403.5" font-size="3.45" font-weight="bold" text-anchor="middle" fill="#15161a">Salon-comedor-cocina</text>
<text x="582" y="407.7" font-size="3.45" font-weight="bold" text-anchor="middle" fill="#15161a">S.U.: 30,00 m²</text>
<text x="574" y="323.7" font-size="3.35" font-weight="bold" text-anchor="middle" fill="#15161a">Tendero</text>
<text x="573.8" y="327.8" font-size="3.2" font-weight="bold" text-anchor="middle" fill="#15161a">S.U.: 1,40m²</text>
<text x="579" y="342.3" font-size="2.3" font-weight="bold" text-anchor="middle" fill="#15161a">FRIGO</text>
<text x="562.9" y="344.6" font-size="1.7" font-weight="bold" text-anchor="middle" fill="#15161a">HORNO</text>
<text x="562.9" y="349.7" font-size="2.3" font-weight="bold" text-anchor="middle" fill="#15161a">HORNO</text>
<text x="548.7" y="351.7" font-size="2.2" font-weight="bold" text-anchor="middle" fill="#15161a">LAVA</text>
<text x="548.7" y="354.4" font-size="2.2" font-weight="bold" text-anchor="middle" fill="#15161a">VAJILLAS</text>
<text transform="translate(557.3 327.3) rotate(-90)" font-size="1.9" font-weight="bold" text-anchor="middle" fill="#15161a">LAV</text>
<text transform="translate(555.3 327.3) rotate(-90)" font-size="1.9" font-weight="bold" text-anchor="middle" fill="#15161a">SEC</text>
<text x="712.4" y="282" font-size="3.45" font-weight="bold" text-anchor="middle" fill="#15161a">Dormitorio 2</text>
<text x="712.4" y="286.4" font-size="3.45" font-weight="bold" text-anchor="middle" fill="#15161a">S.U.: 10,00 m²</text>
<text x="730.5" y="326.3" font-size="3.45" font-weight="bold" text-anchor="middle" fill="#15161a">Distribuidor</text>
<text x="730.5" y="330.6" font-size="3.45" font-weight="bold" text-anchor="middle" fill="#15161a">S.U.: 1,90m²</text>
<text x="702.5" y="328.6" font-size="3.35" font-weight="bold" text-anchor="middle" fill="#15161a">BAÑO</text>
<text x="702.5" y="333" font-size="3.35" font-weight="bold" text-anchor="middle" fill="#15161a">S.U.: 5,00m²</text>
<text x="705.6" y="414.6" font-size="3.45" font-weight="bold" text-anchor="middle" fill="#15161a">Dormitorio Suite 1º</text>
<text x="705.6" y="419" font-size="3.45" font-weight="bold" text-anchor="middle" fill="#15161a">S.U.: 11,00 m²</text>
<text x="745.4" y="539.8" font-size="3.35" font-weight="bold" text-anchor="middle" fill="#15161a">Terrazas</text>
<text x="742.9" y="544" font-size="3.35" font-weight="bold" text-anchor="middle" fill="#15161a">S.U.: 33,80 m²</text>
<text transform="translate(686.85 491.3) rotate(-90)" font-size="3.1" font-weight="bold" text-anchor="middle" fill="#15161a">ESPACIO</text>
<text transform="translate(691.45 491.3) rotate(-90)" font-size="3.1" font-weight="bold" text-anchor="middle" fill="#15161a">SECADO ROPA</text>
<text x="841.5" y="296.4" font-size="3.45" font-weight="bold" text-anchor="middle" fill="#15161a">Rellano P1</text>
<text x="843.6" y="300.6" font-size="3.45" font-weight="bold" text-anchor="middle" fill="#15161a">S.U.: 8,00 m²</text>
<text x="857.5" y="233.2" font-size="2.7" font-weight="bold" text-anchor="middle" fill="#15161a">Pte 1%</text>
<text transform="translate(791.1 216.8) rotate(-90)" font-size="2.7" font-weight="bold" text-anchor="middle" fill="#15161a">Pte 1%</text>
<text x="773.4" y="403.5" font-size="3.45" font-weight="bold" text-anchor="middle" fill="#15161a">Salon-comedor-cocina</text>
<text x="773.4" y="407.7" font-size="3.45" font-weight="bold" text-anchor="middle" fill="#15161a">S.U.: 30,00 m²</text>
<text x="781.4" y="323.7" font-size="3.35" font-weight="bold" text-anchor="middle" fill="#15161a">Tendero</text>
<text x="781.6" y="327.8" font-size="3.2" font-weight="bold" text-anchor="middle" fill="#15161a">S.U.: 1,40m²</text>
<text x="776.4" y="342.3" font-size="2.3" font-weight="bold" text-anchor="middle" fill="#15161a">FRIGO</text>
<text x="792.5" y="344.6" font-size="1.7" font-weight="bold" text-anchor="middle" fill="#15161a">HORNO</text>
<text x="792.5" y="349.7" font-size="2.3" font-weight="bold" text-anchor="middle" fill="#15161a">HORNO</text>
<text x="806.7" y="351.7" font-size="2.2" font-weight="bold" text-anchor="middle" fill="#15161a">LAVA</text>
<text x="806.7" y="354.4" font-size="2.2" font-weight="bold" text-anchor="middle" fill="#15161a">VAJILLAS</text>
<text transform="translate(799.5 327.3) rotate(-90)" font-size="1.9" font-weight="bold" text-anchor="middle" fill="#15161a">LAV</text>
<text transform="translate(801.5 327.3) rotate(-90)" font-size="1.9" font-weight="bold" text-anchor="middle" fill="#15161a">SEC</text>
<text x="919.8" y="282" font-size="3.45" font-weight="bold" text-anchor="middle" fill="#15161a">Dormitorio 2</text>
<text x="919.8" y="286.4" font-size="3.45" font-weight="bold" text-anchor="middle" fill="#15161a">S.U.: 10,00 m²</text>
<text x="901.7" y="326.3" font-size="3.45" font-weight="bold" text-anchor="middle" fill="#15161a">Distribuidor</text>
<text x="901.7" y="330.6" font-size="3.45" font-weight="bold" text-anchor="middle" fill="#15161a">S.U.: 1,90m²</text>
<text x="929.7" y="328.6" font-size="3.35" font-weight="bold" text-anchor="middle" fill="#15161a">BAÑO</text>
<text x="929.7" y="333" font-size="3.35" font-weight="bold" text-anchor="middle" fill="#15161a">S.U.: 5,00m²</text>
<text x="926.6" y="414.6" font-size="3.45" font-weight="bold" text-anchor="middle" fill="#15161a">Dormitorio Suite 1º</text>
<text x="926.6" y="419" font-size="3.45" font-weight="bold" text-anchor="middle" fill="#15161a">S.U.: 11,00 m²</text>
<text x="886.8" y="539.8" font-size="3.35" font-weight="bold" text-anchor="middle" fill="#15161a">Terrazas</text>
<text x="889.3" y="544" font-size="3.35" font-weight="bold" text-anchor="middle" fill="#15161a">S.U.: 33,80 m²</text>
<text transform="translate(943.35 491.3) rotate(-90)" font-size="3.1" font-weight="bold" text-anchor="middle" fill="#15161a">ESPACIO</text>
<text transform="translate(947.95 491.3) rotate(-90)" font-size="3.1" font-weight="bold" text-anchor="middle" fill="#15161a">SECADO ROPA</text>
<text x="858.8" y="403.5" font-size="3.45" font-weight="bold" text-anchor="middle" fill="#15161a">Salon-comedor-cocina</text>
<text x="858.8" y="407.7" font-size="3.45" font-weight="bold" text-anchor="middle" fill="#15161a">S.U.: 30,00 m²</text>
<text x="850.8" y="323.7" font-size="3.35" font-weight="bold" text-anchor="middle" fill="#15161a">Tendero</text>
<text x="850.6" y="327.8" font-size="3.2" font-weight="bold" text-anchor="middle" fill="#15161a">S.U.: 1,40m²</text>
<text x="855.8" y="342.3" font-size="2.3" font-weight="bold" text-anchor="middle" fill="#15161a">FRIGO</text>
<text x="839.7" y="344.6" font-size="1.7" font-weight="bold" text-anchor="middle" fill="#15161a">HORNO</text>
<text x="839.7" y="349.7" font-size="2.3" font-weight="bold" text-anchor="middle" fill="#15161a">HORNO</text>
<text x="825.5" y="351.7" font-size="2.2" font-weight="bold" text-anchor="middle" fill="#15161a">LAVA</text>
<text x="825.5" y="354.4" font-size="2.2" font-weight="bold" text-anchor="middle" fill="#15161a">VAJILLAS</text>
<text transform="translate(834.1 327.3) rotate(-90)" font-size="1.9" font-weight="bold" text-anchor="middle" fill="#15161a">LAV</text>
<text transform="translate(832.1 327.3) rotate(-90)" font-size="1.9" font-weight="bold" text-anchor="middle" fill="#15161a">SEC</text>
<text x="989.2" y="282" font-size="3.45" font-weight="bold" text-anchor="middle" fill="#15161a">Dormitorio 2</text>
<text x="989.2" y="286.4" font-size="3.45" font-weight="bold" text-anchor="middle" fill="#15161a">S.U.: 10,00 m²</text>
<text x="1007.3" y="326.3" font-size="3.45" font-weight="bold" text-anchor="middle" fill="#15161a">Distribuidor</text>
<text x="1007.3" y="330.6" font-size="3.45" font-weight="bold" text-anchor="middle" fill="#15161a">S.U.: 1,90m²</text>
<text x="979.3" y="328.6" font-size="3.35" font-weight="bold" text-anchor="middle" fill="#15161a">BAÑO</text>
<text x="979.3" y="333" font-size="3.35" font-weight="bold" text-anchor="middle" fill="#15161a">S.U.: 5,00m²</text>
<text x="982.4" y="414.6" font-size="3.45" font-weight="bold" text-anchor="middle" fill="#15161a">Dormitorio Suite 1º</text>
<text x="982.4" y="419" font-size="3.45" font-weight="bold" text-anchor="middle" fill="#15161a">S.U.: 11,00 m²</text>
<text x="1022.2" y="539.8" font-size="3.35" font-weight="bold" text-anchor="middle" fill="#15161a">Terrazas</text>
<text x="1019.7" y="544" font-size="3.35" font-weight="bold" text-anchor="middle" fill="#15161a">S.U.: 33,80 m²</text>
<text transform="translate(963.65 491.3) rotate(-90)" font-size="3.1" font-weight="bold" text-anchor="middle" fill="#15161a">ESPACIO</text>
<text transform="translate(968.25 491.3) rotate(-90)" font-size="3.1" font-weight="bold" text-anchor="middle" fill="#15161a">SECADO ROPA</text>
<text x="1118.3" y="296.4" font-size="3.45" font-weight="bold" text-anchor="middle" fill="#15161a">Rellano P1</text>
<text x="1120.4" y="300.6" font-size="3.45" font-weight="bold" text-anchor="middle" fill="#15161a">S.U.: 8,00 m²</text>
<text x="1134.3" y="233.2" font-size="2.7" font-weight="bold" text-anchor="middle" fill="#15161a">Pte 1%</text>
<text transform="translate(1067.9 216.8) rotate(-90)" font-size="2.7" font-weight="bold" text-anchor="middle" fill="#15161a">Pte 1%</text>
<text x="1227.2" y="285.8" font-size="3.45" font-weight="bold" text-anchor="middle" fill="#15161a">Dormitorio 3</text>
<text x="1224.2" y="290.1" font-size="3.45" font-weight="bold" text-anchor="middle" fill="#15161a">S.U.: 10,10 m²</text>
<text x="1179.6" y="295.8" font-size="3.35" font-weight="bold" text-anchor="middle" fill="#15161a">Baño</text>
<text x="1179.6" y="299.9" font-size="3.35" font-weight="bold" text-anchor="middle" fill="#15161a">S.U.: 3,80m²</text>
<text x="1187.2" y="329.6" font-size="3.45" font-weight="bold" text-anchor="middle" fill="#15161a">Distribuidor</text>
<text x="1187.2" y="333.8" font-size="3.45" font-weight="bold" text-anchor="middle" fill="#15161a">S.U.: 2,80m²</text>
<text x="1225.2" y="358.1" font-size="3.45" font-weight="bold" text-anchor="middle" fill="#15161a">Dormitorio 2</text>
<text x="1222.6" y="362.4" font-size="3.45" font-weight="bold" text-anchor="middle" fill="#15161a">S.U.: 10,10 m²</text>
<text x="1200.5" y="417.9" font-size="3.45" font-weight="bold" text-anchor="middle" fill="#15161a">Dormitorio suite 1</text>
<text x="1198.2" y="422.2" font-size="3.45" font-weight="bold" text-anchor="middle" fill="#15161a">S.U.: 13,20 m²</text>
<text x="1162.2" y="539.8" font-size="3.35" font-weight="bold" text-anchor="middle" fill="#15161a">Terrazas</text>
<text x="1158.7" y="544" font-size="3.35" font-weight="bold" text-anchor="middle" fill="#15161a">S.U.: 30,60 m²</text>
<text transform="translate(1184.3 491.3) rotate(-90)" font-size="3.1" font-weight="bold" text-anchor="middle" fill="#15161a">ESPACIO</text>
<text transform="translate(1188.9 491.3) rotate(-90)" font-size="3.1" font-weight="bold" text-anchor="middle" fill="#15161a">SECADO ROPA</text>
<text x="1135.2" y="403.5" font-size="3.45" font-weight="bold" text-anchor="middle" fill="#15161a">Salon-comedor-cocina</text>
<text x="1135.2" y="407.7" font-size="3.45" font-weight="bold" text-anchor="middle" fill="#15161a">S.U.: 30,40 m²</text>
<text x="1127.2" y="323.7" font-size="3.35" font-weight="bold" text-anchor="middle" fill="#15161a">Tendero</text>
<text x="1122.8" y="327.8" font-size="3.2" font-weight="bold" text-anchor="middle" fill="#15161a">S.U.: 1,40m²</text>
<text x="1132.2" y="342.3" font-size="2.3" font-weight="bold" text-anchor="middle" fill="#15161a">FRIGO</text>
<text x="1116.1" y="344.6" font-size="1.7" font-weight="bold" text-anchor="middle" fill="#15161a">HORNO</text>
<text x="1116.1" y="349.7" font-size="2.3" font-weight="bold" text-anchor="middle" fill="#15161a">HORNO</text>
<text x="1101.9" y="351.7" font-size="2.2" font-weight="bold" text-anchor="middle" fill="#15161a">LAVA</text>
<text x="1101.9" y="354.4" font-size="2.2" font-weight="bold" text-anchor="middle" fill="#15161a">VAJILLAS</text>
<text transform="translate(1110.5 327.3) rotate(-90)" font-size="1.9" font-weight="bold" text-anchor="middle" fill="#15161a">LAV</text>
<text transform="translate(1108.5 327.3) rotate(-90)" font-size="1.9" font-weight="bold" text-anchor="middle" fill="#15161a">SEC</text>
<text x="1050.2" y="403.5" font-size="3.45" font-weight="bold" text-anchor="middle" fill="#15161a">Salon-comedor-cocina</text>
<text x="1050.2" y="407.7" font-size="3.45" font-weight="bold" text-anchor="middle" fill="#15161a">S.U.: 30,00 m²</text>
<text x="1058.2" y="323.7" font-size="3.35" font-weight="bold" text-anchor="middle" fill="#15161a">Tendero</text>
<text x="1058.4" y="327.8" font-size="3.2" font-weight="bold" text-anchor="middle" fill="#15161a">S.U.: 1,40m²</text>
<text x="1053.2" y="342.3" font-size="2.3" font-weight="bold" text-anchor="middle" fill="#15161a">FRIGO</text>
<text x="1069.3" y="344.6" font-size="1.7" font-weight="bold" text-anchor="middle" fill="#15161a">HORNO</text>
<text x="1069.3" y="349.7" font-size="2.3" font-weight="bold" text-anchor="middle" fill="#15161a">HORNO</text>
<text x="1083.5" y="351.7" font-size="2.2" font-weight="bold" text-anchor="middle" fill="#15161a">LAVA</text>
<text x="1083.5" y="354.4" font-size="2.2" font-weight="bold" text-anchor="middle" fill="#15161a">VAJILLAS</text>
<text transform="translate(1076.3 327.3) rotate(-90)" font-size="1.9" font-weight="bold" text-anchor="middle" fill="#15161a">LAV</text>
<text transform="translate(1078.3 327.3) rotate(-90)" font-size="1.9" font-weight="bold" text-anchor="middle" fill="#15161a">SEC</text></g>
<path d="M484 308.7 l-4.6 -5.2 h9.2 z" fill="#14a0aa"/><circle cx="484" cy="296.3" r="9.9" fill="#14a0aa"/><text x="484" y="300.9" font-size="13" font-weight="bold" fill="#fff" text-anchor="middle">B</text>
<path d="M593.9 308.7 l-4.6 -5.2 h9.2 z" fill="#14a0aa"/><circle cx="593.9" cy="296.3" r="9.9" fill="#14a0aa"/><text x="593.9" y="300.9" font-size="13" font-weight="bold" fill="#fff" text-anchor="middle">A</text>
<path d="M871.4 308.7 l-4.6 -5.2 h9.2 z" fill="#14a0aa"/><circle cx="871.4" cy="296.3" r="9.9" fill="#14a0aa"/><text x="871.4" y="300.9" font-size="13" font-weight="bold" fill="#fff" text-anchor="middle">B</text>
<path d="M761.5 308.7 l-4.6 -5.2 h9.2 z" fill="#14a0aa"/><circle cx="761.5" cy="296.3" r="9.9" fill="#14a0aa"/><text x="761.5" y="300.9" font-size="13" font-weight="bold" fill="#fff" text-anchor="middle">A</text>
<path d="M1148.2 308.7 l-4.6 -5.2 h9.2 z" fill="#14a0aa"/><circle cx="1148.2" cy="296.3" r="9.9" fill="#14a0aa"/><text x="1148.2" y="300.9" font-size="13" font-weight="bold" fill="#fff" text-anchor="middle">B</text>
<path d="M1038.3 308.7 l-4.6 -5.2 h9.2 z" fill="#14a0aa"/><circle cx="1038.3" cy="296.3" r="9.9" fill="#14a0aa"/><text x="1038.3" y="300.9" font-size="13" font-weight="bold" fill="#fff" text-anchor="middle">A</text>
<rect x="485.95" y="156.9" width="105.8" height="23.8" rx="11.9" fill="#14a0aa"/>
<text x="499.25" y="174.7" font-size="16.3" fill="#fff" stroke="#fff" stroke-width="0.1" textLength="63.8" lengthAdjust="spacingAndGlyphs">ESCALERA -</text>
<text x="572.85" y="174.7" font-size="15.6" font-weight="bold" fill="#fff" text-anchor="middle">C</text>
<rect x="764.7" y="156.9" width="105.8" height="23.8" rx="11.9" fill="#14a0aa"/>
<text x="778" y="174.7" font-size="16.3" fill="#fff" stroke="#fff" stroke-width="0.1" textLength="63.8" lengthAdjust="spacingAndGlyphs">ESCALERA -</text>
<text x="851.6" y="174.7" font-size="15.6" font-weight="bold" fill="#fff" text-anchor="middle">B</text>
<rect x="1043.1" y="156.9" width="105.8" height="23.8" rx="11.9" fill="#14a0aa"/>
<text x="1056.4" y="174.7" font-size="16.3" fill="#fff" stroke="#fff" stroke-width="0.1" textLength="63.8" lengthAdjust="spacingAndGlyphs">ESCALERA -</text>
<text x="1130" y="174.7" font-size="15.6" font-weight="bold" fill="#fff" text-anchor="middle">A</text></g>
</svg></body></html>
